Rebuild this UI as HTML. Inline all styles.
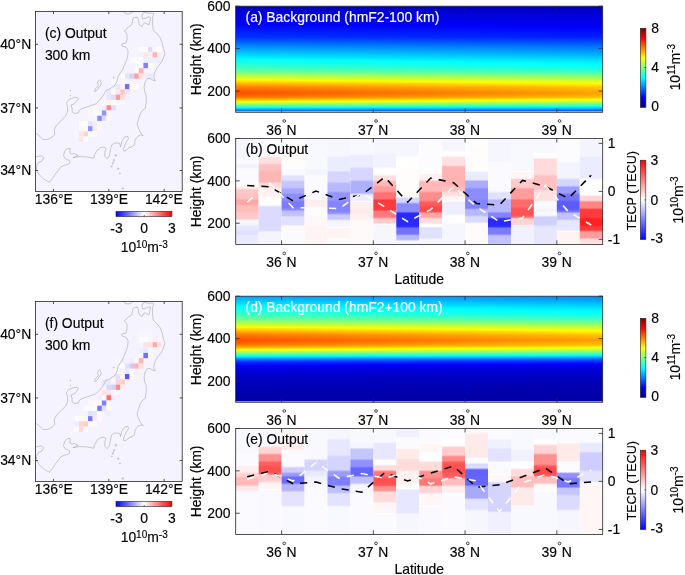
<!DOCTYPE html><html><head><meta charset="utf-8"><style>html,body{margin:0;padding:0;background:#fff;overflow:hidden}svg{display:block;will-change:transform;filter:blur(0.4px)}</style></head><body><svg width="685" height="575" viewBox="0 0 685 575" font-family='"Liberation Sans", sans-serif'><defs><linearGradient id="r1" x1="0" x2="1" y1="0" y2="0"><stop offset="0.0000" stop-color="#0000ca"/><stop offset="1.0000" stop-color="#0000c2"/></linearGradient><linearGradient id="r2" x1="0" x2="1" y1="0" y2="0"><stop offset="0.0000" stop-color="#0000cb"/><stop offset="1.0000" stop-color="#0000c3"/></linearGradient><linearGradient id="r3" x1="0" x2="1" y1="0" y2="0"><stop offset="0.0000" stop-color="#0000cd"/><stop offset="1.0000" stop-color="#0000c5"/></linearGradient><linearGradient id="r4" x1="0" x2="1" y1="0" y2="0"><stop offset="0.0000" stop-color="#0000d0"/><stop offset="1.0000" stop-color="#0000c8"/></linearGradient><linearGradient id="r5" x1="0" x2="1" y1="0" y2="0"><stop offset="0.0000" stop-color="#0000d3"/><stop offset="1.0000" stop-color="#0000cb"/></linearGradient><linearGradient id="r6" x1="0" x2="1" y1="0" y2="0"><stop offset="0.0000" stop-color="#0000d6"/><stop offset="1.0000" stop-color="#0000cd"/></linearGradient><linearGradient id="r7" x1="0" x2="1" y1="0" y2="0"><stop offset="0.0000" stop-color="#0000d9"/><stop offset="1.0000" stop-color="#0000d0"/></linearGradient><linearGradient id="r8" x1="0" x2="1" y1="0" y2="0"><stop offset="0.0000" stop-color="#0000dc"/><stop offset="1.0000" stop-color="#0000d3"/></linearGradient><linearGradient id="r9" x1="0" x2="1" y1="0" y2="0"><stop offset="0.0000" stop-color="#0000df"/><stop offset="1.0000" stop-color="#0000d6"/></linearGradient><linearGradient id="r10" x1="0" x2="1" y1="0" y2="0"><stop offset="0.0000" stop-color="#0000e3"/><stop offset="1.0000" stop-color="#0000d9"/></linearGradient><linearGradient id="r11" x1="0" x2="1" y1="0" y2="0"><stop offset="0.0000" stop-color="#0000e6"/><stop offset="1.0000" stop-color="#0000dc"/></linearGradient><linearGradient id="r12" x1="0" x2="1" y1="0" y2="0"><stop offset="0.0000" stop-color="#0000e9"/><stop offset="1.0000" stop-color="#0000de"/></linearGradient><linearGradient id="r13" x1="0" x2="1" y1="0" y2="0"><stop offset="0.0000" stop-color="#0000ec"/><stop offset="1.0000" stop-color="#0000e1"/></linearGradient><linearGradient id="r14" x1="0" x2="1" y1="0" y2="0"><stop offset="0.0000" stop-color="#0000ef"/><stop offset="1.0000" stop-color="#0000e4"/></linearGradient><linearGradient id="r15" x1="0" x2="1" y1="0" y2="0"><stop offset="0.0000" stop-color="#0000f2"/><stop offset="1.0000" stop-color="#0000e7"/></linearGradient><linearGradient id="r16" x1="0" x2="1" y1="0" y2="0"><stop offset="0.0000" stop-color="#0000f5"/><stop offset="1.0000" stop-color="#0000ea"/></linearGradient><linearGradient id="r17" x1="0" x2="1" y1="0" y2="0"><stop offset="0.0000" stop-color="#0000f9"/><stop offset="1.0000" stop-color="#0000ed"/></linearGradient><linearGradient id="r18" x1="0" x2="1" y1="0" y2="0"><stop offset="0.0000" stop-color="#0000fd"/><stop offset="1.0000" stop-color="#0000f0"/></linearGradient><linearGradient id="r19" x1="0" x2="1" y1="0" y2="0"><stop offset="0.0000" stop-color="#0002ff"/><stop offset="0.1389" stop-color="#0000ff"/><stop offset="1.0000" stop-color="#0000f4"/></linearGradient><linearGradient id="r20" x1="0" x2="1" y1="0" y2="0"><stop offset="0.0000" stop-color="#0006ff"/><stop offset="0.4216" stop-color="#0000ff"/><stop offset="1.0000" stop-color="#0000f7"/></linearGradient><linearGradient id="r21" x1="0" x2="1" y1="0" y2="0"><stop offset="0.0000" stop-color="#0009ff"/><stop offset="0.6886" stop-color="#0000ff"/><stop offset="1.0000" stop-color="#0000fb"/></linearGradient><linearGradient id="r22" x1="0" x2="1" y1="0" y2="0"><stop offset="0.0000" stop-color="#000dff"/><stop offset="0.9411" stop-color="#0000ff"/><stop offset="1.0000" stop-color="#0000fe"/></linearGradient><linearGradient id="r23" x1="0" x2="1" y1="0" y2="0"><stop offset="0.0000" stop-color="#0011ff"/><stop offset="1.0000" stop-color="#0003ff"/></linearGradient><linearGradient id="r24" x1="0" x2="1" y1="0" y2="0"><stop offset="0.0000" stop-color="#0015ff"/><stop offset="1.0000" stop-color="#0006ff"/></linearGradient><linearGradient id="r25" x1="0" x2="1" y1="0" y2="0"><stop offset="0.0000" stop-color="#0019ff"/><stop offset="1.0000" stop-color="#0009ff"/></linearGradient><linearGradient id="r26" x1="0" x2="1" y1="0" y2="0"><stop offset="0.0000" stop-color="#001dff"/><stop offset="1.0000" stop-color="#000dff"/></linearGradient><linearGradient id="r27" x1="0" x2="1" y1="0" y2="0"><stop offset="0.0000" stop-color="#0020ff"/><stop offset="1.0000" stop-color="#0010ff"/></linearGradient><linearGradient id="r28" x1="0" x2="1" y1="0" y2="0"><stop offset="0.0000" stop-color="#0024ff"/><stop offset="1.0000" stop-color="#0014ff"/></linearGradient><linearGradient id="r29" x1="0" x2="1" y1="0" y2="0"><stop offset="0.0000" stop-color="#0028ff"/><stop offset="1.0000" stop-color="#0017ff"/></linearGradient><linearGradient id="r30" x1="0" x2="1" y1="0" y2="0"><stop offset="0.0000" stop-color="#002cff"/><stop offset="1.0000" stop-color="#001bff"/></linearGradient><linearGradient id="r31" x1="0" x2="1" y1="0" y2="0"><stop offset="0.0000" stop-color="#0030ff"/><stop offset="1.0000" stop-color="#001eff"/></linearGradient><linearGradient id="r32" x1="0" x2="1" y1="0" y2="0"><stop offset="0.0000" stop-color="#0034ff"/><stop offset="1.0000" stop-color="#0022ff"/></linearGradient><linearGradient id="r33" x1="0" x2="1" y1="0" y2="0"><stop offset="0.0000" stop-color="#003eff"/><stop offset="1.0000" stop-color="#002bff"/></linearGradient><linearGradient id="r34" x1="0" x2="1" y1="0" y2="0"><stop offset="0.0000" stop-color="#0048ff"/><stop offset="1.0000" stop-color="#0034ff"/></linearGradient><linearGradient id="r35" x1="0" x2="1" y1="0" y2="0"><stop offset="0.0000" stop-color="#0051ff"/><stop offset="1.0000" stop-color="#003dff"/></linearGradient><linearGradient id="r36" x1="0" x2="1" y1="0" y2="0"><stop offset="0.0000" stop-color="#005bff"/><stop offset="1.0000" stop-color="#0045ff"/></linearGradient><linearGradient id="r37" x1="0" x2="1" y1="0" y2="0"><stop offset="0.0000" stop-color="#0065ff"/><stop offset="1.0000" stop-color="#004eff"/></linearGradient><linearGradient id="r38" x1="0" x2="1" y1="0" y2="0"><stop offset="0.0000" stop-color="#006fff"/><stop offset="1.0000" stop-color="#0057ff"/></linearGradient><linearGradient id="r39" x1="0" x2="1" y1="0" y2="0"><stop offset="0.0000" stop-color="#0079ff"/><stop offset="1.0000" stop-color="#0060ff"/></linearGradient><linearGradient id="r40" x1="0" x2="1" y1="0" y2="0"><stop offset="0.0000" stop-color="#0083ff"/><stop offset="1.0000" stop-color="#0069ff"/></linearGradient><linearGradient id="r41" x1="0" x2="1" y1="0" y2="0"><stop offset="0.0000" stop-color="#008cff"/><stop offset="1.0000" stop-color="#0072ff"/></linearGradient><linearGradient id="r42" x1="0" x2="1" y1="0" y2="0"><stop offset="0.0000" stop-color="#0096ff"/><stop offset="1.0000" stop-color="#007aff"/></linearGradient><linearGradient id="r43" x1="0" x2="1" y1="0" y2="0"><stop offset="0.0000" stop-color="#009fff"/><stop offset="1.0000" stop-color="#0082ff"/></linearGradient><linearGradient id="r44" x1="0" x2="1" y1="0" y2="0"><stop offset="0.0000" stop-color="#00a8ff"/><stop offset="1.0000" stop-color="#008aff"/></linearGradient><linearGradient id="r45" x1="0" x2="1" y1="0" y2="0"><stop offset="0.0000" stop-color="#00b0ff"/><stop offset="1.0000" stop-color="#0092ff"/></linearGradient><linearGradient id="r46" x1="0" x2="1" y1="0" y2="0"><stop offset="0.0000" stop-color="#00b9ff"/><stop offset="1.0000" stop-color="#0099ff"/></linearGradient><linearGradient id="r47" x1="0" x2="1" y1="0" y2="0"><stop offset="0.0000" stop-color="#00c1ff"/><stop offset="1.0000" stop-color="#00a1ff"/></linearGradient><linearGradient id="r48" x1="0" x2="1" y1="0" y2="0"><stop offset="0.0000" stop-color="#00caff"/><stop offset="1.0000" stop-color="#00a9ff"/></linearGradient><linearGradient id="r49" x1="0" x2="1" y1="0" y2="0"><stop offset="0.0000" stop-color="#00d3ff"/><stop offset="1.0000" stop-color="#00b1ff"/></linearGradient><linearGradient id="r50" x1="0" x2="1" y1="0" y2="0"><stop offset="0.0000" stop-color="#00dcff"/><stop offset="1.0000" stop-color="#00b9ff"/></linearGradient><linearGradient id="r51" x1="0" x2="1" y1="0" y2="0"><stop offset="0.0000" stop-color="#00e5ff"/><stop offset="1.0000" stop-color="#00c2ff"/></linearGradient><linearGradient id="r52" x1="0" x2="1" y1="0" y2="0"><stop offset="0.0000" stop-color="#00efff"/><stop offset="1.0000" stop-color="#00caff"/></linearGradient><linearGradient id="r53" x1="0" x2="1" y1="0" y2="0"><stop offset="0.0000" stop-color="#00f8ff"/><stop offset="1.0000" stop-color="#00d2ff"/></linearGradient><linearGradient id="r54" x1="0" x2="1" y1="0" y2="0"><stop offset="0.0000" stop-color="#02fffd"/><stop offset="0.0509" stop-color="#00ffff"/><stop offset="1.0000" stop-color="#00dbff"/></linearGradient><linearGradient id="r55" x1="0" x2="1" y1="0" y2="0"><stop offset="0.0000" stop-color="#0bfff4"/><stop offset="0.2827" stop-color="#00ffff"/><stop offset="1.0000" stop-color="#00e3ff"/></linearGradient><linearGradient id="r56" x1="0" x2="1" y1="0" y2="0"><stop offset="0.0000" stop-color="#14ffeb"/><stop offset="0.4964" stop-color="#00ffff"/><stop offset="1.0000" stop-color="#00ebff"/></linearGradient><linearGradient id="r57" x1="0" x2="1" y1="0" y2="0"><stop offset="0.0000" stop-color="#1bffe4"/><stop offset="0.6515" stop-color="#00ffff"/><stop offset="1.0000" stop-color="#00f1ff"/></linearGradient><linearGradient id="r58" x1="0" x2="1" y1="0" y2="0"><stop offset="0.0000" stop-color="#21ffde"/><stop offset="0.8016" stop-color="#00ffff"/><stop offset="1.0000" stop-color="#00f7ff"/></linearGradient><linearGradient id="r59" x1="0" x2="1" y1="0" y2="0"><stop offset="0.0000" stop-color="#28ffd7"/><stop offset="0.9469" stop-color="#00ffff"/><stop offset="1.0000" stop-color="#00fdff"/></linearGradient><linearGradient id="r60" x1="0" x2="1" y1="0" y2="0"><stop offset="0.0000" stop-color="#2fffd0"/><stop offset="1.0000" stop-color="#04fffb"/></linearGradient><linearGradient id="r61" x1="0" x2="1" y1="0" y2="0"><stop offset="0.0000" stop-color="#35ffca"/><stop offset="1.0000" stop-color="#0afff5"/></linearGradient><linearGradient id="r62" x1="0" x2="1" y1="0" y2="0"><stop offset="0.0000" stop-color="#3effc1"/><stop offset="1.0000" stop-color="#12ffed"/></linearGradient><linearGradient id="r63" x1="0" x2="1" y1="0" y2="0"><stop offset="0.0000" stop-color="#4affb5"/><stop offset="1.0000" stop-color="#1cffe3"/></linearGradient><linearGradient id="r64" x1="0" x2="1" y1="0" y2="0"><stop offset="0.0000" stop-color="#56ffa9"/><stop offset="1.0000" stop-color="#27ffd8"/></linearGradient><linearGradient id="r65" x1="0" x2="1" y1="0" y2="0"><stop offset="0.0000" stop-color="#61ff9e"/><stop offset="1.0000" stop-color="#31ffce"/></linearGradient><linearGradient id="r66" x1="0" x2="1" y1="0" y2="0"><stop offset="0.0000" stop-color="#6dff92"/><stop offset="1.0000" stop-color="#3cffc3"/></linearGradient><linearGradient id="r67" x1="0" x2="1" y1="0" y2="0"><stop offset="0.0000" stop-color="#7cff83"/><stop offset="1.0000" stop-color="#49ffb6"/></linearGradient><linearGradient id="r68" x1="0" x2="1" y1="0" y2="0"><stop offset="0.0000" stop-color="#8eff71"/><stop offset="1.0000" stop-color="#5affa5"/></linearGradient><linearGradient id="r69" x1="0" x2="1" y1="0" y2="0"><stop offset="0.0000" stop-color="#a0ff5f"/><stop offset="1.0000" stop-color="#6aff95"/></linearGradient><linearGradient id="r70" x1="0" x2="1" y1="0" y2="0"><stop offset="0.0000" stop-color="#b2ff4d"/><stop offset="1.0000" stop-color="#7aff85"/></linearGradient><linearGradient id="r71" x1="0" x2="1" y1="0" y2="0"><stop offset="0.0000" stop-color="#c4ff3b"/><stop offset="1.0000" stop-color="#8aff75"/></linearGradient><linearGradient id="r72" x1="0" x2="1" y1="0" y2="0"><stop offset="0.0000" stop-color="#d6ff29"/><stop offset="1.0000" stop-color="#9bff64"/></linearGradient><linearGradient id="r73" x1="0" x2="1" y1="0" y2="0"><stop offset="0.0000" stop-color="#e8ff17"/><stop offset="1.0000" stop-color="#abff54"/></linearGradient><linearGradient id="r74" x1="0" x2="1" y1="0" y2="0"><stop offset="0.0000" stop-color="#fcff03"/><stop offset="1.0000" stop-color="#bcff43"/></linearGradient><linearGradient id="r75" x1="0" x2="1" y1="0" y2="0"><stop offset="0.0000" stop-color="#ffef00"/><stop offset="0.2430" stop-color="#ffff00"/><stop offset="1.0000" stop-color="#ceff31"/></linearGradient><linearGradient id="r76" x1="0" x2="1" y1="0" y2="0"><stop offset="0.0000" stop-color="#ffdc00"/><stop offset="0.5219" stop-color="#ffff00"/><stop offset="1.0000" stop-color="#dfff20"/></linearGradient><linearGradient id="r77" x1="0" x2="1" y1="0" y2="0"><stop offset="0.0000" stop-color="#ffc900"/><stop offset="0.7853" stop-color="#ffff00"/><stop offset="1.0000" stop-color="#f0ff0f"/></linearGradient><linearGradient id="r78" x1="0" x2="1" y1="0" y2="0"><stop offset="0.0000" stop-color="#ffb500"/><stop offset="1.0000" stop-color="#fffd00"/></linearGradient><linearGradient id="r79" x1="0" x2="1" y1="0" y2="0"><stop offset="0.0000" stop-color="#ffa600"/><stop offset="1.0000" stop-color="#ffee00"/></linearGradient><linearGradient id="r80" x1="0" x2="1" y1="0" y2="0"><stop offset="0.0000" stop-color="#ff9700"/><stop offset="1.0000" stop-color="#ffe100"/></linearGradient><linearGradient id="r81" x1="0" x2="1" y1="0" y2="0"><stop offset="0.0000" stop-color="#ff8800"/><stop offset="1.0000" stop-color="#ffd300"/></linearGradient><linearGradient id="r82" x1="0" x2="1" y1="0" y2="0"><stop offset="0.0000" stop-color="#ff7900"/><stop offset="1.0000" stop-color="#ffc600"/></linearGradient><linearGradient id="r83" x1="0" x2="1" y1="0" y2="0"><stop offset="0.0000" stop-color="#ff6e00"/><stop offset="1.0000" stop-color="#ffbd00"/></linearGradient><linearGradient id="r84" x1="0" x2="1" y1="0" y2="0"><stop offset="0.0000" stop-color="#ff6700"/><stop offset="1.0000" stop-color="#ffb600"/></linearGradient><linearGradient id="r85" x1="0" x2="1" y1="0" y2="0"><stop offset="0.0000" stop-color="#ff6000"/><stop offset="1.0000" stop-color="#ffb000"/></linearGradient><linearGradient id="r86" x1="0" x2="1" y1="0" y2="0"><stop offset="0.0000" stop-color="#ff5900"/><stop offset="1.0000" stop-color="#ffa900"/></linearGradient><linearGradient id="r87" x1="0" x2="1" y1="0" y2="0"><stop offset="0.0000" stop-color="#ff5200"/><stop offset="1.0000" stop-color="#ffa300"/></linearGradient><linearGradient id="r88" x1="0" x2="1" y1="0" y2="0"><stop offset="0.0000" stop-color="#ff5000"/><stop offset="1.0000" stop-color="#ffa100"/></linearGradient><linearGradient id="r89" x1="0" x2="1" y1="0" y2="0"><stop offset="0.0000" stop-color="#ff5a00"/><stop offset="1.0000" stop-color="#ffaa00"/></linearGradient><linearGradient id="r90" x1="0" x2="1" y1="0" y2="0"><stop offset="0.0000" stop-color="#ff6500"/><stop offset="1.0000" stop-color="#ffb400"/></linearGradient><linearGradient id="r91" x1="0" x2="1" y1="0" y2="0"><stop offset="0.0000" stop-color="#ff6f00"/><stop offset="1.0000" stop-color="#ffbd00"/></linearGradient><linearGradient id="r92" x1="0" x2="1" y1="0" y2="0"><stop offset="0.0000" stop-color="#ff7b00"/><stop offset="1.0000" stop-color="#ffc800"/></linearGradient><linearGradient id="r93" x1="0" x2="1" y1="0" y2="0"><stop offset="0.0000" stop-color="#ff9a00"/><stop offset="1.0000" stop-color="#ffe400"/></linearGradient><linearGradient id="r94" x1="0" x2="1" y1="0" y2="0"><stop offset="0.0000" stop-color="#ffba00"/><stop offset="0.9777" stop-color="#ffff00"/><stop offset="1.0000" stop-color="#fdff02"/></linearGradient><linearGradient id="r95" x1="0" x2="1" y1="0" y2="0"><stop offset="0.0000" stop-color="#ffd900"/><stop offset="0.5561" stop-color="#ffff00"/><stop offset="1.0000" stop-color="#e1ff1e"/></linearGradient><linearGradient id="r96" x1="0" x2="1" y1="0" y2="0"><stop offset="0.0000" stop-color="#fff900"/><stop offset="0.0931" stop-color="#ffff00"/><stop offset="1.0000" stop-color="#c5ff3a"/></linearGradient><linearGradient id="r97" x1="0" x2="1" y1="0" y2="0"><stop offset="0.0000" stop-color="#dfff20"/><stop offset="1.0000" stop-color="#a2ff5d"/></linearGradient><linearGradient id="r98" x1="0" x2="1" y1="0" y2="0"><stop offset="0.0000" stop-color="#b6ff49"/><stop offset="1.0000" stop-color="#7eff81"/></linearGradient><linearGradient id="r99" x1="0" x2="1" y1="0" y2="0"><stop offset="0.0000" stop-color="#8eff71"/><stop offset="1.0000" stop-color="#5affa5"/></linearGradient><linearGradient id="r100" x1="0" x2="1" y1="0" y2="0"><stop offset="0.0000" stop-color="#63ff9c"/><stop offset="1.0000" stop-color="#32ffcd"/></linearGradient><linearGradient id="r101" x1="0" x2="1" y1="0" y2="0"><stop offset="0.0000" stop-color="#34ffcb"/><stop offset="1.0000" stop-color="#09fff6"/></linearGradient><linearGradient id="r102" x1="0" x2="1" y1="0" y2="0"><stop offset="0.0000" stop-color="#06fff9"/><stop offset="0.1565" stop-color="#00ffff"/><stop offset="1.0000" stop-color="#00deff"/></linearGradient><linearGradient id="r103" x1="0" x2="1" y1="0" y2="0"><stop offset="0.0000" stop-color="#00d4ff"/><stop offset="1.0000" stop-color="#00b2ff"/></linearGradient><linearGradient id="r104" x1="0" x2="1" y1="0" y2="0"><stop offset="0.0000" stop-color="#00a1ff"/><stop offset="1.0000" stop-color="#0085ff"/></linearGradient><linearGradient id="r105" x1="0" x2="1" y1="0" y2="0"><stop offset="0.0000" stop-color="#0076ff"/><stop offset="1.0000" stop-color="#005eff"/></linearGradient><linearGradient id="r106" x1="0" x2="1" y1="0" y2="0"><stop offset="0.0000" stop-color="#0063ff"/><stop offset="1.0000" stop-color="#004cff"/></linearGradient><linearGradient id="c107" gradientUnits="userSpaceOnUse" x1="0" x2="0" y1="138.50" y2="244.40"><stop offset="-0.0047" stop-color="#f6f6ff"/><stop offset="0.1789" stop-color="#f6f6ff"/><stop offset="0.1989" stop-color="#fbfbff"/><stop offset="0.2308" stop-color="#fbfbff"/><stop offset="0.2508" stop-color="#f2f2ff"/><stop offset="0.2686" stop-color="#f2f2ff"/><stop offset="0.2886" stop-color="#fafaff"/><stop offset="0.4385" stop-color="#fafaff"/><stop offset="0.4440" stop-color="#ffffff"/><stop offset="0.4585" stop-color="#fff1f1"/><stop offset="0.4669" stop-color="#fff1f1"/><stop offset="0.4869" stop-color="#ffc6c6"/><stop offset="0.5122" stop-color="#ffc6c6"/><stop offset="0.5322" stop-color="#ffc1c1"/><stop offset="0.5651" stop-color="#ffc1c1"/><stop offset="0.5851" stop-color="#ffa6a6"/><stop offset="0.6180" stop-color="#ffa6a6"/><stop offset="0.6380" stop-color="#ffbdbd"/><stop offset="0.6878" stop-color="#ffbdbd"/><stop offset="0.7078" stop-color="#ffcaca"/><stop offset="0.7586" stop-color="#ffcaca"/><stop offset="0.7759" stop-color="#ffffff"/><stop offset="0.7786" stop-color="#f6f6ff"/><stop offset="0.8115" stop-color="#f6f6ff"/><stop offset="0.8315" stop-color="#e6e6ff"/><stop offset="0.8635" stop-color="#e6e6ff"/><stop offset="0.8835" stop-color="#e0e0ff"/><stop offset="0.9012" stop-color="#e0e0ff"/><stop offset="0.9212" stop-color="#eaeaff"/><stop offset="1.0057" stop-color="#eaeaff"/></linearGradient><linearGradient id="c108" gradientUnits="userSpaceOnUse" x1="0" x2="0" y1="138.50" y2="244.40"><stop offset="-0.0047" stop-color="#fbfbff"/><stop offset="0.1609" stop-color="#fbfbff"/><stop offset="0.1634" stop-color="#ffffff"/><stop offset="0.1809" stop-color="#ffe0e0"/><stop offset="0.2308" stop-color="#ffe0e0"/><stop offset="0.2508" stop-color="#ffc1c1"/><stop offset="0.2969" stop-color="#ffc1c1"/><stop offset="0.3169" stop-color="#ffb6b6"/><stop offset="0.4074" stop-color="#ffb6b6"/><stop offset="0.4274" stop-color="#ffdbdb"/><stop offset="0.4593" stop-color="#ffdbdb"/><stop offset="0.4793" stop-color="#fff1f1"/><stop offset="0.5424" stop-color="#fff1f1"/><stop offset="0.5624" stop-color="#ffffff"/><stop offset="0.6274" stop-color="#ffffff"/><stop offset="0.6474" stop-color="#dbdbff"/><stop offset="0.8635" stop-color="#dbdbff"/><stop offset="0.8835" stop-color="#f4f4ff"/><stop offset="1.0057" stop-color="#f4f4ff"/></linearGradient><linearGradient id="c109" gradientUnits="userSpaceOnUse" x1="0" x2="0" y1="138.50" y2="244.40"><stop offset="-0.0047" stop-color="#fffcfc"/><stop offset="0.2686" stop-color="#fffcfc"/><stop offset="0.2761" stop-color="#ffffff"/><stop offset="0.2886" stop-color="#fbfbff"/><stop offset="0.3366" stop-color="#fbfbff"/><stop offset="0.3566" stop-color="#e0e0ff"/><stop offset="0.3894" stop-color="#e0e0ff"/><stop offset="0.4094" stop-color="#c6c6ff"/><stop offset="0.4593" stop-color="#c6c6ff"/><stop offset="0.4793" stop-color="#a6a6ff"/><stop offset="0.5122" stop-color="#a6a6ff"/><stop offset="0.5322" stop-color="#8c8cff"/><stop offset="0.5802" stop-color="#8c8cff"/><stop offset="0.6002" stop-color="#7b7bff"/><stop offset="0.6510" stop-color="#7b7bff"/><stop offset="0.6709" stop-color="#8c8cff"/><stop offset="0.6709" stop-color="#8c8cff"/><stop offset="0.6908" stop-color="#c1c1ff"/><stop offset="0.7237" stop-color="#c1c1ff"/><stop offset="0.7437" stop-color="#e0e0ff"/><stop offset="0.8115" stop-color="#e0e0ff"/><stop offset="0.8279" stop-color="#ffffff"/><stop offset="0.8315" stop-color="#fff8f8"/><stop offset="0.8635" stop-color="#fff8f8"/><stop offset="0.8758" stop-color="#ffffff"/><stop offset="0.8835" stop-color="#fbfbff"/><stop offset="1.0057" stop-color="#fbfbff"/></linearGradient><linearGradient id="c110" gradientUnits="userSpaceOnUse" x1="0" x2="0" y1="138.50" y2="244.40"><stop offset="-0.0047" stop-color="#f8f8ff"/><stop offset="0.2837" stop-color="#f8f8ff"/><stop offset="0.3037" stop-color="#f4f4ff"/><stop offset="0.3366" stop-color="#f4f4ff"/><stop offset="0.3566" stop-color="#fbfbff"/><stop offset="0.5651" stop-color="#fbfbff"/><stop offset="0.5688" stop-color="#ffffff"/><stop offset="0.5851" stop-color="#ffecec"/><stop offset="0.6349" stop-color="#ffecec"/><stop offset="0.6549" stop-color="#fffbfb"/><stop offset="0.7237" stop-color="#fffbfb"/><stop offset="0.7437" stop-color="#fff8f8"/><stop offset="0.8115" stop-color="#fff8f8"/><stop offset="0.8315" stop-color="#fff4f4"/><stop offset="1.0057" stop-color="#fff4f4"/></linearGradient><linearGradient id="c111" gradientUnits="userSpaceOnUse" x1="0" x2="0" y1="138.50" y2="244.40"><stop offset="-0.0047" stop-color="#f6f6ff"/><stop offset="0.1609" stop-color="#f6f6ff"/><stop offset="0.1809" stop-color="#ececff"/><stop offset="0.3016" stop-color="#ececff"/><stop offset="0.3216" stop-color="#d5d5ff"/><stop offset="0.4074" stop-color="#d5d5ff"/><stop offset="0.4274" stop-color="#b8b8ff"/><stop offset="0.4952" stop-color="#b8b8ff"/><stop offset="0.5152" stop-color="#9595ff"/><stop offset="0.5802" stop-color="#9595ff"/><stop offset="0.6002" stop-color="#8484ff"/><stop offset="0.6841" stop-color="#8484ff"/><stop offset="0.7041" stop-color="#9595ff"/><stop offset="0.7058" stop-color="#9595ff"/><stop offset="0.7258" stop-color="#cacaff"/><stop offset="0.7586" stop-color="#cacaff"/><stop offset="0.7786" stop-color="#f6f6ff"/><stop offset="0.8285" stop-color="#f6f6ff"/><stop offset="0.8375" stop-color="#ffffff"/><stop offset="0.8485" stop-color="#fff4f4"/><stop offset="0.9343" stop-color="#fff4f4"/><stop offset="0.9504" stop-color="#ffffff"/><stop offset="0.9543" stop-color="#fcfcff"/><stop offset="1.0057" stop-color="#fcfcff"/></linearGradient><linearGradient id="c112" gradientUnits="userSpaceOnUse" x1="0" x2="0" y1="138.50" y2="244.40"><stop offset="-0.0047" stop-color="#f8f8ff"/><stop offset="0.1430" stop-color="#f8f8ff"/><stop offset="0.1630" stop-color="#ececff"/><stop offset="0.2667" stop-color="#ececff"/><stop offset="0.2867" stop-color="#d5d5ff"/><stop offset="0.3894" stop-color="#d5d5ff"/><stop offset="0.4094" stop-color="#afafff"/><stop offset="0.5122" stop-color="#afafff"/><stop offset="0.5322" stop-color="#ececff"/><stop offset="0.5830" stop-color="#ececff"/><stop offset="0.5946" stop-color="#ffffff"/><stop offset="0.6030" stop-color="#fff1f1"/><stop offset="0.6463" stop-color="#fff1f1"/><stop offset="0.6663" stop-color="#ffeaea"/><stop offset="0.7029" stop-color="#ffeaea"/><stop offset="0.7229" stop-color="#fff1f1"/><stop offset="0.7586" stop-color="#fff1f1"/><stop offset="0.7786" stop-color="#fffafa"/><stop offset="1.0057" stop-color="#fffafa"/></linearGradient><linearGradient id="c113" gradientUnits="userSpaceOnUse" x1="0" x2="0" y1="138.50" y2="244.40"><stop offset="-0.0047" stop-color="#f6f6ff"/><stop offset="0.1430" stop-color="#f6f6ff"/><stop offset="0.1630" stop-color="#f1f1ff"/><stop offset="0.2667" stop-color="#f1f1ff"/><stop offset="0.2867" stop-color="#ffffff"/><stop offset="0.3366" stop-color="#ffffff"/><stop offset="0.3566" stop-color="#ffe0e0"/><stop offset="0.3894" stop-color="#ffe0e0"/><stop offset="0.4094" stop-color="#ffb8b8"/><stop offset="0.4385" stop-color="#ffb8b8"/><stop offset="0.4585" stop-color="#ff9d9d"/><stop offset="0.4952" stop-color="#ff9d9d"/><stop offset="0.5152" stop-color="#ff7373"/><stop offset="0.5651" stop-color="#ff7373"/><stop offset="0.5851" stop-color="#ff3a3a"/><stop offset="0.6708" stop-color="#ff3a3a"/><stop offset="0.6908" stop-color="#ff7b7b"/><stop offset="0.7407" stop-color="#ff7b7b"/><stop offset="0.7607" stop-color="#ffcaca"/><stop offset="0.7936" stop-color="#ffcaca"/><stop offset="0.8108" stop-color="#ffffff"/><stop offset="0.8136" stop-color="#f6f6ff"/><stop offset="1.0057" stop-color="#f6f6ff"/></linearGradient><linearGradient id="c114" gradientUnits="userSpaceOnUse" x1="0" x2="0" y1="138.50" y2="244.40"><stop offset="-0.0047" stop-color="#f6f6ff"/><stop offset="0.1609" stop-color="#f6f6ff"/><stop offset="0.1809" stop-color="#ffffff"/><stop offset="0.2487" stop-color="#ffffff"/><stop offset="0.2687" stop-color="#fffcfc"/><stop offset="0.5471" stop-color="#fffcfc"/><stop offset="0.5483" stop-color="#ffffff"/><stop offset="0.5671" stop-color="#d5d5ff"/><stop offset="0.6000" stop-color="#d5d5ff"/><stop offset="0.6200" stop-color="#8c8cff"/><stop offset="0.6878" stop-color="#8c8cff"/><stop offset="0.7078" stop-color="#2a2aff"/><stop offset="0.8285" stop-color="#2a2aff"/><stop offset="0.8485" stop-color="#7373ff"/><stop offset="0.8993" stop-color="#7373ff"/><stop offset="0.9193" stop-color="#b8b8ff"/><stop offset="0.9513" stop-color="#b8b8ff"/><stop offset="0.9713" stop-color="#f6f6ff"/><stop offset="1.0057" stop-color="#f6f6ff"/></linearGradient><linearGradient id="c115" gradientUnits="userSpaceOnUse" x1="0" x2="0" y1="138.50" y2="244.40"><stop offset="-0.0047" stop-color="#fcfcff"/><stop offset="0.3196" stop-color="#fcfcff"/><stop offset="0.3227" stop-color="#ffffff"/><stop offset="0.3396" stop-color="#fff1f1"/><stop offset="0.3894" stop-color="#fff1f1"/><stop offset="0.4094" stop-color="#ffb8b8"/><stop offset="0.4952" stop-color="#ffb8b8"/><stop offset="0.5152" stop-color="#ff8c8c"/><stop offset="0.5830" stop-color="#ff8c8c"/><stop offset="0.6030" stop-color="#ff5b5b"/><stop offset="0.6274" stop-color="#ff5b5b"/><stop offset="0.6474" stop-color="#ff4a4a"/><stop offset="0.6878" stop-color="#ff4a4a"/><stop offset="0.7078" stop-color="#ffa6a6"/><stop offset="0.7407" stop-color="#ffa6a6"/><stop offset="0.7607" stop-color="#ffe0e0"/><stop offset="0.7936" stop-color="#ffe0e0"/><stop offset="0.8136" stop-color="#ffffff"/><stop offset="0.8285" stop-color="#ffffff"/><stop offset="0.8485" stop-color="#e0e0ff"/><stop offset="0.9343" stop-color="#e0e0ff"/><stop offset="0.9543" stop-color="#f6f6ff"/><stop offset="1.0057" stop-color="#f6f6ff"/></linearGradient><linearGradient id="c116" gradientUnits="userSpaceOnUse" x1="0" x2="0" y1="138.50" y2="244.40"><stop offset="-0.0047" stop-color="#f6f6ff"/><stop offset="0.1080" stop-color="#f6f6ff"/><stop offset="0.1280" stop-color="#ffffff"/><stop offset="0.1609" stop-color="#ffffff"/><stop offset="0.1809" stop-color="#ffe0e0"/><stop offset="0.2487" stop-color="#ffe0e0"/><stop offset="0.2687" stop-color="#ffb3b3"/><stop offset="0.4385" stop-color="#ffb3b3"/><stop offset="0.4585" stop-color="#ffbdbd"/><stop offset="0.4914" stop-color="#ffbdbd"/><stop offset="0.5114" stop-color="#ffdbdb"/><stop offset="0.5330" stop-color="#ffdbdb"/><stop offset="0.5530" stop-color="#fff6f6"/><stop offset="0.5830" stop-color="#fff6f6"/><stop offset="0.5898" stop-color="#ffffff"/><stop offset="0.6030" stop-color="#eeeeff"/><stop offset="0.7124" stop-color="#eeeeff"/><stop offset="0.7324" stop-color="#ffffff"/><stop offset="0.7936" stop-color="#ffffff"/><stop offset="0.8136" stop-color="#f6f6ff"/><stop offset="1.0057" stop-color="#f6f6ff"/></linearGradient><linearGradient id="c117" gradientUnits="userSpaceOnUse" x1="0" x2="0" y1="138.50" y2="244.40"><stop offset="-0.0047" stop-color="#fffcfc"/><stop offset="0.3016" stop-color="#fffcfc"/><stop offset="0.3047" stop-color="#ffffff"/><stop offset="0.3216" stop-color="#ececff"/><stop offset="0.3866" stop-color="#ececff"/><stop offset="0.4066" stop-color="#aaaaff"/><stop offset="0.4593" stop-color="#aaaaff"/><stop offset="0.4793" stop-color="#8c8cff"/><stop offset="0.5651" stop-color="#8c8cff"/><stop offset="0.5851" stop-color="#8484ff"/><stop offset="0.6557" stop-color="#8484ff"/><stop offset="0.6757" stop-color="#b8b8ff"/><stop offset="0.7218" stop-color="#b8b8ff"/><stop offset="0.7418" stop-color="#dbdbff"/><stop offset="0.7879" stop-color="#dbdbff"/><stop offset="0.8058" stop-color="#ffffff"/><stop offset="0.8079" stop-color="#fffbfb"/><stop offset="1.0057" stop-color="#fffbfb"/></linearGradient><linearGradient id="c118" gradientUnits="userSpaceOnUse" x1="0" x2="0" y1="138.50" y2="244.40"><stop offset="-0.0047" stop-color="#f6f6ff"/><stop offset="0.2138" stop-color="#f6f6ff"/><stop offset="0.2338" stop-color="#fbfbff"/><stop offset="0.4952" stop-color="#fbfbff"/><stop offset="0.5152" stop-color="#e0e0ff"/><stop offset="0.5651" stop-color="#e0e0ff"/><stop offset="0.5851" stop-color="#b8b8ff"/><stop offset="0.6878" stop-color="#b8b8ff"/><stop offset="0.7078" stop-color="#8484ff"/><stop offset="0.7407" stop-color="#8484ff"/><stop offset="0.7607" stop-color="#2a2aff"/><stop offset="0.8285" stop-color="#2a2aff"/><stop offset="0.8485" stop-color="#7b7bff"/><stop offset="0.8993" stop-color="#7b7bff"/><stop offset="0.9193" stop-color="#c1c1ff"/><stop offset="1.0057" stop-color="#c1c1ff"/></linearGradient><linearGradient id="c119" gradientUnits="userSpaceOnUse" x1="0" x2="0" y1="138.50" y2="244.40"><stop offset="-0.0047" stop-color="#f8f8ff"/><stop offset="0.3016" stop-color="#f8f8ff"/><stop offset="0.3105" stop-color="#ffffff"/><stop offset="0.3216" stop-color="#fff6f6"/><stop offset="0.3715" stop-color="#fff6f6"/><stop offset="0.3915" stop-color="#ffcaca"/><stop offset="0.4593" stop-color="#ffcaca"/><stop offset="0.4793" stop-color="#ff9d9d"/><stop offset="0.5651" stop-color="#ff9d9d"/><stop offset="0.5851" stop-color="#ff6b6b"/><stop offset="0.6463" stop-color="#ff6b6b"/><stop offset="0.6663" stop-color="#ff5252"/><stop offset="0.7218" stop-color="#ff5252"/><stop offset="0.7413" stop-color="#ff6b6b"/><stop offset="0.7413" stop-color="#ff6b6b"/><stop offset="0.7607" stop-color="#ffd5d5"/><stop offset="0.8115" stop-color="#ffd5d5"/><stop offset="0.8266" stop-color="#ffffff"/><stop offset="0.8315" stop-color="#f1f1ff"/><stop offset="1.0057" stop-color="#f1f1ff"/></linearGradient><linearGradient id="c120" gradientUnits="userSpaceOnUse" x1="0" x2="0" y1="138.50" y2="244.40"><stop offset="-0.0047" stop-color="#f8f8ff"/><stop offset="0.1260" stop-color="#f8f8ff"/><stop offset="0.1460" stop-color="#ffffff"/><stop offset="0.1789" stop-color="#ffffff"/><stop offset="0.1989" stop-color="#ffdbdb"/><stop offset="0.3366" stop-color="#ffdbdb"/><stop offset="0.3566" stop-color="#ffc1c1"/><stop offset="0.4773" stop-color="#ffc1c1"/><stop offset="0.4973" stop-color="#ffe0e0"/><stop offset="0.5830" stop-color="#ffe0e0"/><stop offset="0.6006" stop-color="#ffffff"/><stop offset="0.6030" stop-color="#fbfbff"/><stop offset="0.6463" stop-color="#fbfbff"/><stop offset="0.6663" stop-color="#f4f4ff"/><stop offset="0.6841" stop-color="#f4f4ff"/><stop offset="0.7041" stop-color="#fbfbff"/><stop offset="0.7237" stop-color="#fbfbff"/><stop offset="0.7437" stop-color="#d0d0ff"/><stop offset="0.8115" stop-color="#d0d0ff"/><stop offset="0.8315" stop-color="#e6e6ff"/><stop offset="1.0057" stop-color="#e6e6ff"/></linearGradient><linearGradient id="c121" gradientUnits="userSpaceOnUse" x1="0" x2="0" y1="138.50" y2="244.40"><stop offset="-0.0047" stop-color="#fcfcff"/><stop offset="0.2138" stop-color="#fcfcff"/><stop offset="0.2338" stop-color="#f4f4ff"/><stop offset="0.3715" stop-color="#f4f4ff"/><stop offset="0.3915" stop-color="#d5d5ff"/><stop offset="0.4423" stop-color="#d5d5ff"/><stop offset="0.4623" stop-color="#9d9dff"/><stop offset="0.5122" stop-color="#9d9dff"/><stop offset="0.5322" stop-color="#7373ff"/><stop offset="0.5802" stop-color="#7373ff"/><stop offset="0.6002" stop-color="#5b5bff"/><stop offset="0.6652" stop-color="#5b5bff"/><stop offset="0.6852" stop-color="#7373ff"/><stop offset="0.6878" stop-color="#7373ff"/><stop offset="0.7078" stop-color="#c1c1ff"/><stop offset="0.7586" stop-color="#c1c1ff"/><stop offset="0.7786" stop-color="#e6e6ff"/><stop offset="0.8635" stop-color="#e6e6ff"/><stop offset="0.8775" stop-color="#ffffff"/><stop offset="0.8835" stop-color="#fff4f4"/><stop offset="1.0057" stop-color="#fff4f4"/></linearGradient><linearGradient id="c122" gradientUnits="userSpaceOnUse" x1="0" x2="0" y1="138.50" y2="244.40"><stop offset="-0.0047" stop-color="#f4f4ff"/><stop offset="0.1609" stop-color="#f4f4ff"/><stop offset="0.1809" stop-color="#ececff"/><stop offset="0.3715" stop-color="#ececff"/><stop offset="0.3915" stop-color="#ffffff"/><stop offset="0.5301" stop-color="#ffffff"/><stop offset="0.5501" stop-color="#ffd5d5"/><stop offset="0.5830" stop-color="#ffd5d5"/><stop offset="0.6030" stop-color="#ff8484"/><stop offset="0.6529" stop-color="#ff8484"/><stop offset="0.6729" stop-color="#ff3a3a"/><stop offset="0.7407" stop-color="#ff3a3a"/><stop offset="0.7607" stop-color="#ff2222"/><stop offset="0.8163" stop-color="#ff2222"/><stop offset="0.8363" stop-color="#ff3a3a"/><stop offset="0.8635" stop-color="#ff3a3a"/><stop offset="0.8835" stop-color="#ff9d9d"/><stop offset="0.9343" stop-color="#ff9d9d"/><stop offset="0.9543" stop-color="#ffe0e0"/><stop offset="1.0057" stop-color="#ffe0e0"/></linearGradient><linearGradient id="cb123" x1="0" x2="0" y1="0" y2="1"><stop offset="0.0000" stop-color="#800000"/><stop offset="0.1250" stop-color="#ff0000"/><stop offset="0.3750" stop-color="#ffff00"/><stop offset="0.6250" stop-color="#00ffff"/><stop offset="0.8750" stop-color="#0000ff"/><stop offset="1.0000" stop-color="#000080"/></linearGradient><linearGradient id="cb124" x1="0" x2="0" y1="0" y2="1"><stop offset="0" stop-color="#ff0000"/><stop offset="0.5" stop-color="#ffffff"/><stop offset="1" stop-color="#0000ff"/></linearGradient><clipPath id="clip125"><rect x="35.50" y="11.50" width="146.70" height="179.90"/></clipPath><linearGradient id="cb126" x1="0" x2="1" y1="0" y2="0"><stop offset="0" stop-color="#0000ff"/><stop offset="0.5" stop-color="#ffffff"/><stop offset="1" stop-color="#ff0000"/></linearGradient><linearGradient id="r127" x1="0" x2="1" y1="0" y2="0"><stop offset="0.0000" stop-color="#00a5ff"/><stop offset="1.0000" stop-color="#0088ff"/></linearGradient><linearGradient id="r128" x1="0" x2="1" y1="0" y2="0"><stop offset="0.0000" stop-color="#00adff"/><stop offset="1.0000" stop-color="#008fff"/></linearGradient><linearGradient id="r129" x1="0" x2="1" y1="0" y2="0"><stop offset="0.0000" stop-color="#00b6ff"/><stop offset="1.0000" stop-color="#0097ff"/></linearGradient><linearGradient id="r130" x1="0" x2="1" y1="0" y2="0"><stop offset="0.0000" stop-color="#00beff"/><stop offset="1.0000" stop-color="#009fff"/></linearGradient><linearGradient id="r131" x1="0" x2="1" y1="0" y2="0"><stop offset="0.0000" stop-color="#00c7ff"/><stop offset="1.0000" stop-color="#00a6ff"/></linearGradient><linearGradient id="r132" x1="0" x2="1" y1="0" y2="0"><stop offset="0.0000" stop-color="#00d0ff"/><stop offset="1.0000" stop-color="#00aeff"/></linearGradient><linearGradient id="r133" x1="0" x2="1" y1="0" y2="0"><stop offset="0.0000" stop-color="#00d9ff"/><stop offset="1.0000" stop-color="#00b7ff"/></linearGradient><linearGradient id="r134" x1="0" x2="1" y1="0" y2="0"><stop offset="0.0000" stop-color="#00e2ff"/><stop offset="1.0000" stop-color="#00bfff"/></linearGradient><linearGradient id="r135" x1="0" x2="1" y1="0" y2="0"><stop offset="0.0000" stop-color="#00ebff"/><stop offset="1.0000" stop-color="#00c7ff"/></linearGradient><linearGradient id="r136" x1="0" x2="1" y1="0" y2="0"><stop offset="0.0000" stop-color="#00f5ff"/><stop offset="1.0000" stop-color="#00cfff"/></linearGradient><linearGradient id="r137" x1="0" x2="1" y1="0" y2="0"><stop offset="0.0000" stop-color="#00feff"/><stop offset="1.0000" stop-color="#00d8ff"/></linearGradient><linearGradient id="r138" x1="0" x2="1" y1="0" y2="0"><stop offset="0.0000" stop-color="#08fff7"/><stop offset="0.2033" stop-color="#00ffff"/><stop offset="1.0000" stop-color="#00e0ff"/></linearGradient><linearGradient id="r139" x1="0" x2="1" y1="0" y2="0"><stop offset="0.0000" stop-color="#11ffee"/><stop offset="0.4281" stop-color="#00ffff"/><stop offset="1.0000" stop-color="#00e8ff"/></linearGradient><linearGradient id="r140" x1="0" x2="1" y1="0" y2="0"><stop offset="0.0000" stop-color="#18ffe7"/><stop offset="0.5981" stop-color="#00ffff"/><stop offset="1.0000" stop-color="#00efff"/></linearGradient><linearGradient id="r141" x1="0" x2="1" y1="0" y2="0"><stop offset="0.0000" stop-color="#1fffe0"/><stop offset="0.7499" stop-color="#00ffff"/><stop offset="1.0000" stop-color="#00f5ff"/></linearGradient><linearGradient id="r142" x1="0" x2="1" y1="0" y2="0"><stop offset="0.0000" stop-color="#26ffd9"/><stop offset="0.8969" stop-color="#00ffff"/><stop offset="1.0000" stop-color="#00fbff"/></linearGradient><linearGradient id="r143" x1="0" x2="1" y1="0" y2="0"><stop offset="0.0000" stop-color="#2cffd3"/><stop offset="1.0000" stop-color="#02fffd"/></linearGradient><linearGradient id="r144" x1="0" x2="1" y1="0" y2="0"><stop offset="0.0000" stop-color="#33ffcc"/><stop offset="1.0000" stop-color="#08fff7"/></linearGradient><linearGradient id="r145" x1="0" x2="1" y1="0" y2="0"><stop offset="0.0000" stop-color="#3affc5"/><stop offset="1.0000" stop-color="#0efff1"/></linearGradient><linearGradient id="r146" x1="0" x2="1" y1="0" y2="0"><stop offset="0.0000" stop-color="#46ffb9"/><stop offset="1.0000" stop-color="#19ffe6"/></linearGradient><linearGradient id="r147" x1="0" x2="1" y1="0" y2="0"><stop offset="0.0000" stop-color="#51ffae"/><stop offset="1.0000" stop-color="#23ffdc"/></linearGradient><linearGradient id="r148" x1="0" x2="1" y1="0" y2="0"><stop offset="0.0000" stop-color="#5dffa2"/><stop offset="1.0000" stop-color="#2effd1"/></linearGradient><linearGradient id="r149" x1="0" x2="1" y1="0" y2="0"><stop offset="0.0000" stop-color="#69ff96"/><stop offset="1.0000" stop-color="#38ffc7"/></linearGradient><linearGradient id="r150" x1="0" x2="1" y1="0" y2="0"><stop offset="0.0000" stop-color="#76ff89"/><stop offset="1.0000" stop-color="#44ffbb"/></linearGradient><linearGradient id="r151" x1="0" x2="1" y1="0" y2="0"><stop offset="0.0000" stop-color="#88ff77"/><stop offset="1.0000" stop-color="#54ffab"/></linearGradient><linearGradient id="r152" x1="0" x2="1" y1="0" y2="0"><stop offset="0.0000" stop-color="#9aff65"/><stop offset="1.0000" stop-color="#64ff9b"/></linearGradient><linearGradient id="r153" x1="0" x2="1" y1="0" y2="0"><stop offset="0.0000" stop-color="#acff53"/><stop offset="1.0000" stop-color="#74ff8b"/></linearGradient><linearGradient id="r154" x1="0" x2="1" y1="0" y2="0"><stop offset="0.0000" stop-color="#beff41"/><stop offset="1.0000" stop-color="#85ff7a"/></linearGradient><linearGradient id="r155" x1="0" x2="1" y1="0" y2="0"><stop offset="0.0000" stop-color="#d0ff2f"/><stop offset="1.0000" stop-color="#95ff6a"/></linearGradient><linearGradient id="r156" x1="0" x2="1" y1="0" y2="0"><stop offset="0.0000" stop-color="#e2ff1d"/><stop offset="1.0000" stop-color="#a5ff5a"/></linearGradient><linearGradient id="r157" x1="0" x2="1" y1="0" y2="0"><stop offset="0.0000" stop-color="#f5ff0a"/><stop offset="1.0000" stop-color="#b6ff49"/></linearGradient><linearGradient id="r158" x1="0" x2="1" y1="0" y2="0"><stop offset="0.0000" stop-color="#fff600"/><stop offset="0.1421" stop-color="#ffff00"/><stop offset="1.0000" stop-color="#c8ff37"/></linearGradient><linearGradient id="r159" x1="0" x2="1" y1="0" y2="0"><stop offset="0.0000" stop-color="#ffe300"/><stop offset="0.4267" stop-color="#ffff00"/><stop offset="1.0000" stop-color="#d9ff26"/></linearGradient><linearGradient id="r160" x1="0" x2="1" y1="0" y2="0"><stop offset="0.0000" stop-color="#ffcf00"/><stop offset="0.6954" stop-color="#ffff00"/><stop offset="1.0000" stop-color="#eaff15"/></linearGradient><linearGradient id="r161" x1="0" x2="1" y1="0" y2="0"><stop offset="0.0000" stop-color="#ffbc00"/><stop offset="0.9494" stop-color="#ffff00"/><stop offset="1.0000" stop-color="#fbff04"/></linearGradient><linearGradient id="r162" x1="0" x2="1" y1="0" y2="0"><stop offset="0.0000" stop-color="#ffab00"/><stop offset="1.0000" stop-color="#fff300"/></linearGradient><linearGradient id="r163" x1="0" x2="1" y1="0" y2="0"><stop offset="0.0000" stop-color="#ff9c00"/><stop offset="1.0000" stop-color="#ffe600"/></linearGradient><linearGradient id="r164" x1="0" x2="1" y1="0" y2="0"><stop offset="0.0000" stop-color="#ff8d00"/><stop offset="1.0000" stop-color="#ffd800"/></linearGradient><linearGradient id="r165" x1="0" x2="1" y1="0" y2="0"><stop offset="0.0000" stop-color="#ff7e00"/><stop offset="1.0000" stop-color="#ffcb00"/></linearGradient><linearGradient id="r166" x1="0" x2="1" y1="0" y2="0"><stop offset="0.0000" stop-color="#ff7100"/><stop offset="1.0000" stop-color="#ffbf00"/></linearGradient><linearGradient id="r167" x1="0" x2="1" y1="0" y2="0"><stop offset="0.0000" stop-color="#ff6a00"/><stop offset="1.0000" stop-color="#ffb800"/></linearGradient><linearGradient id="r168" x1="0" x2="1" y1="0" y2="0"><stop offset="0.0000" stop-color="#ff6200"/><stop offset="1.0000" stop-color="#ffb200"/></linearGradient><linearGradient id="r169" x1="0" x2="1" y1="0" y2="0"><stop offset="0.0000" stop-color="#ff5b00"/><stop offset="1.0000" stop-color="#ffab00"/></linearGradient><linearGradient id="r170" x1="0" x2="1" y1="0" y2="0"><stop offset="0.0000" stop-color="#ff5400"/><stop offset="1.0000" stop-color="#ffa500"/></linearGradient><linearGradient id="r171" x1="0" x2="1" y1="0" y2="0"><stop offset="0.0000" stop-color="#ff4d00"/><stop offset="1.0000" stop-color="#ff9e00"/></linearGradient><linearGradient id="r172" x1="0" x2="1" y1="0" y2="0"><stop offset="0.0000" stop-color="#ff5600"/><stop offset="1.0000" stop-color="#ffa600"/></linearGradient><linearGradient id="r173" x1="0" x2="1" y1="0" y2="0"><stop offset="0.0000" stop-color="#ff5f00"/><stop offset="1.0000" stop-color="#ffaf00"/></linearGradient><linearGradient id="r174" x1="0" x2="1" y1="0" y2="0"><stop offset="0.0000" stop-color="#ff6900"/><stop offset="1.0000" stop-color="#ffb800"/></linearGradient><linearGradient id="r175" x1="0" x2="1" y1="0" y2="0"><stop offset="0.0000" stop-color="#ff7300"/><stop offset="1.0000" stop-color="#ffc000"/></linearGradient><linearGradient id="r176" x1="0" x2="1" y1="0" y2="0"><stop offset="0.0000" stop-color="#ff8300"/><stop offset="1.0000" stop-color="#ffcf00"/></linearGradient><linearGradient id="r177" x1="0" x2="1" y1="0" y2="0"><stop offset="0.0000" stop-color="#ff9f00"/><stop offset="1.0000" stop-color="#ffe900"/></linearGradient><linearGradient id="r178" x1="0" x2="1" y1="0" y2="0"><stop offset="0.0000" stop-color="#ffbc00"/><stop offset="0.9460" stop-color="#ffff00"/><stop offset="1.0000" stop-color="#fbff04"/></linearGradient><linearGradient id="r179" x1="0" x2="1" y1="0" y2="0"><stop offset="0.0000" stop-color="#ffd900"/><stop offset="0.5580" stop-color="#ffff00"/><stop offset="1.0000" stop-color="#e1ff1e"/></linearGradient><linearGradient id="r180" x1="0" x2="1" y1="0" y2="0"><stop offset="0.0000" stop-color="#fff600"/><stop offset="0.1351" stop-color="#ffff00"/><stop offset="1.0000" stop-color="#c7ff38"/></linearGradient><linearGradient id="r181" x1="0" x2="1" y1="0" y2="0"><stop offset="0.0000" stop-color="#e5ff1a"/><stop offset="1.0000" stop-color="#a8ff57"/></linearGradient><linearGradient id="r182" x1="0" x2="1" y1="0" y2="0"><stop offset="0.0000" stop-color="#c1ff3e"/><stop offset="1.0000" stop-color="#87ff78"/></linearGradient><linearGradient id="r183" x1="0" x2="1" y1="0" y2="0"><stop offset="0.0000" stop-color="#9cff63"/><stop offset="1.0000" stop-color="#66ff99"/></linearGradient><linearGradient id="r184" x1="0" x2="1" y1="0" y2="0"><stop offset="0.0000" stop-color="#76ff89"/><stop offset="1.0000" stop-color="#44ffbb"/></linearGradient><linearGradient id="r185" x1="0" x2="1" y1="0" y2="0"><stop offset="0.0000" stop-color="#4bffb4"/><stop offset="1.0000" stop-color="#1effe1"/></linearGradient><linearGradient id="r186" x1="0" x2="1" y1="0" y2="0"><stop offset="0.0000" stop-color="#21ffde"/><stop offset="0.7940" stop-color="#00ffff"/><stop offset="1.0000" stop-color="#00f6ff"/></linearGradient><linearGradient id="r187" x1="0" x2="1" y1="0" y2="0"><stop offset="0.0000" stop-color="#00f5ff"/><stop offset="1.0000" stop-color="#00d0ff"/></linearGradient><linearGradient id="r188" x1="0" x2="1" y1="0" y2="0"><stop offset="0.0000" stop-color="#00c7ff"/><stop offset="1.0000" stop-color="#00a6ff"/></linearGradient><linearGradient id="r189" x1="0" x2="1" y1="0" y2="0"><stop offset="0.0000" stop-color="#0099ff"/><stop offset="1.0000" stop-color="#007dff"/></linearGradient><linearGradient id="r190" x1="0" x2="1" y1="0" y2="0"><stop offset="0.0000" stop-color="#0074ff"/><stop offset="1.0000" stop-color="#005cff"/></linearGradient><linearGradient id="r191" x1="0" x2="1" y1="0" y2="0"><stop offset="0.0000" stop-color="#005aff"/><stop offset="1.0000" stop-color="#0045ff"/></linearGradient><linearGradient id="r192" x1="0" x2="1" y1="0" y2="0"><stop offset="0.0000" stop-color="#0041ff"/><stop offset="1.0000" stop-color="#002dff"/></linearGradient><linearGradient id="r193" x1="0" x2="1" y1="0" y2="0"><stop offset="0.0000" stop-color="#0027ff"/><stop offset="1.0000" stop-color="#0016ff"/></linearGradient><linearGradient id="r194" x1="0" x2="1" y1="0" y2="0"><stop offset="0.0000" stop-color="#0018ff"/><stop offset="1.0000" stop-color="#0009ff"/></linearGradient><linearGradient id="r195" x1="0" x2="1" y1="0" y2="0"><stop offset="0.0000" stop-color="#0009ff"/><stop offset="0.6724" stop-color="#0000ff"/><stop offset="1.0000" stop-color="#0000fb"/></linearGradient><linearGradient id="r196" x1="0" x2="1" y1="0" y2="0"><stop offset="0.0000" stop-color="#0000f9"/><stop offset="1.0000" stop-color="#0000ed"/></linearGradient><linearGradient id="r197" x1="0" x2="1" y1="0" y2="0"><stop offset="0.0000" stop-color="#0000f0"/><stop offset="1.0000" stop-color="#0000e5"/></linearGradient><linearGradient id="r198" x1="0" x2="1" y1="0" y2="0"><stop offset="0.0000" stop-color="#0000ec"/><stop offset="1.0000" stop-color="#0000e1"/></linearGradient><linearGradient id="r199" x1="0" x2="1" y1="0" y2="0"><stop offset="0.0000" stop-color="#0000e8"/><stop offset="1.0000" stop-color="#0000dd"/></linearGradient><linearGradient id="r200" x1="0" x2="1" y1="0" y2="0"><stop offset="0.0000" stop-color="#0000e4"/><stop offset="1.0000" stop-color="#0000da"/></linearGradient><linearGradient id="r201" x1="0" x2="1" y1="0" y2="0"><stop offset="0.0000" stop-color="#0000e0"/><stop offset="1.0000" stop-color="#0000d6"/></linearGradient><linearGradient id="r202" x1="0" x2="1" y1="0" y2="0"><stop offset="0.0000" stop-color="#0000db"/><stop offset="1.0000" stop-color="#0000d2"/></linearGradient><linearGradient id="r203" x1="0" x2="1" y1="0" y2="0"><stop offset="0.0000" stop-color="#0000d7"/><stop offset="1.0000" stop-color="#0000cf"/></linearGradient><linearGradient id="r204" x1="0" x2="1" y1="0" y2="0"><stop offset="0.0000" stop-color="#0000d3"/><stop offset="1.0000" stop-color="#0000cb"/></linearGradient><linearGradient id="r205" x1="0" x2="1" y1="0" y2="0"><stop offset="0.0000" stop-color="#0000cf"/><stop offset="1.0000" stop-color="#0000c7"/></linearGradient><linearGradient id="r206" x1="0" x2="1" y1="0" y2="0"><stop offset="0.0000" stop-color="#0000cb"/><stop offset="1.0000" stop-color="#0000c4"/></linearGradient><linearGradient id="r207" x1="0" x2="1" y1="0" y2="0"><stop offset="0.0000" stop-color="#0000ca"/><stop offset="1.0000" stop-color="#0000c2"/></linearGradient><linearGradient id="r208" x1="0" x2="1" y1="0" y2="0"><stop offset="0.0000" stop-color="#0000c8"/><stop offset="1.0000" stop-color="#0000c0"/></linearGradient><linearGradient id="r209" x1="0" x2="1" y1="0" y2="0"><stop offset="0.0000" stop-color="#0000c6"/><stop offset="1.0000" stop-color="#0000bf"/></linearGradient><linearGradient id="r210" x1="0" x2="1" y1="0" y2="0"><stop offset="0.0000" stop-color="#0000c4"/><stop offset="1.0000" stop-color="#0000bd"/></linearGradient><linearGradient id="r211" x1="0" x2="1" y1="0" y2="0"><stop offset="0.0000" stop-color="#0000c2"/><stop offset="1.0000" stop-color="#0000bb"/></linearGradient><linearGradient id="r212" x1="0" x2="1" y1="0" y2="0"><stop offset="0.0000" stop-color="#0000c0"/><stop offset="1.0000" stop-color="#0000b9"/></linearGradient><linearGradient id="r213" x1="0" x2="1" y1="0" y2="0"><stop offset="0.0000" stop-color="#0000be"/><stop offset="1.0000" stop-color="#0000b7"/></linearGradient><linearGradient id="r214" x1="0" x2="1" y1="0" y2="0"><stop offset="0.0000" stop-color="#0000bc"/><stop offset="1.0000" stop-color="#0000b6"/></linearGradient><linearGradient id="r215" x1="0" x2="1" y1="0" y2="0"><stop offset="0.0000" stop-color="#0000ba"/><stop offset="1.0000" stop-color="#0000b4"/></linearGradient><linearGradient id="r216" x1="0" x2="1" y1="0" y2="0"><stop offset="0.0000" stop-color="#0000b8"/><stop offset="1.0000" stop-color="#0000b2"/></linearGradient><linearGradient id="r217" x1="0" x2="1" y1="0" y2="0"><stop offset="0.0000" stop-color="#0000b6"/><stop offset="1.0000" stop-color="#0000b0"/></linearGradient><linearGradient id="r218" x1="0" x2="1" y1="0" y2="0"><stop offset="0.0000" stop-color="#0000b4"/><stop offset="1.0000" stop-color="#0000af"/></linearGradient><linearGradient id="r219" x1="0" x2="1" y1="0" y2="0"><stop offset="0.0000" stop-color="#0000b3"/><stop offset="1.0000" stop-color="#0000ae"/></linearGradient><linearGradient id="r220" x1="0" x2="1" y1="0" y2="0"><stop offset="0.0000" stop-color="#0000b3"/><stop offset="1.0000" stop-color="#0000ad"/></linearGradient><linearGradient id="r221" x1="0" x2="1" y1="0" y2="0"><stop offset="0.0000" stop-color="#0000b2"/><stop offset="1.0000" stop-color="#0000ad"/></linearGradient><linearGradient id="r222" x1="0" x2="1" y1="0" y2="0"><stop offset="0.0000" stop-color="#0000b1"/><stop offset="1.0000" stop-color="#0000ac"/></linearGradient><linearGradient id="r223" x1="0" x2="1" y1="0" y2="0"><stop offset="0.0000" stop-color="#0000b0"/><stop offset="1.0000" stop-color="#0000ab"/></linearGradient><linearGradient id="r224" x1="0" x2="1" y1="0" y2="0"><stop offset="0.0000" stop-color="#0000af"/><stop offset="1.0000" stop-color="#0000aa"/></linearGradient><linearGradient id="r225" x1="0" x2="1" y1="0" y2="0"><stop offset="0.0000" stop-color="#0000ae"/><stop offset="1.0000" stop-color="#0000a9"/></linearGradient><linearGradient id="r226" x1="0" x2="1" y1="0" y2="0"><stop offset="0.0000" stop-color="#0000ad"/><stop offset="1.0000" stop-color="#0000a8"/></linearGradient><linearGradient id="r227" x1="0" x2="1" y1="0" y2="0"><stop offset="0.0000" stop-color="#0000ac"/><stop offset="1.0000" stop-color="#0000a8"/></linearGradient><linearGradient id="r228" x1="0" x2="1" y1="0" y2="0"><stop offset="0.0000" stop-color="#0000ab"/><stop offset="1.0000" stop-color="#0000a7"/></linearGradient><linearGradient id="r229" x1="0" x2="1" y1="0" y2="0"><stop offset="0.0000" stop-color="#0000aa"/><stop offset="1.0000" stop-color="#0000a6"/></linearGradient><linearGradient id="r230" x1="0" x2="1" y1="0" y2="0"><stop offset="0.0000" stop-color="#0000a9"/><stop offset="1.0000" stop-color="#0000a5"/></linearGradient><linearGradient id="r231" x1="0" x2="1" y1="0" y2="0"><stop offset="0.0000" stop-color="#0000a8"/><stop offset="1.0000" stop-color="#0000a4"/></linearGradient><linearGradient id="r232" x1="0" x2="1" y1="0" y2="0"><stop offset="0.0000" stop-color="#0000a8"/><stop offset="1.0000" stop-color="#0000a4"/></linearGradient><linearGradient id="c233" gradientUnits="userSpaceOnUse" x1="0" x2="0" y1="428.50" y2="534.40"><stop offset="-0.0047" stop-color="#f8f8ff"/><stop offset="0.2308" stop-color="#f8f8ff"/><stop offset="0.2508" stop-color="#fbfbff"/><stop offset="0.3366" stop-color="#fbfbff"/><stop offset="0.3410" stop-color="#ffffff"/><stop offset="0.3566" stop-color="#fff0f0"/><stop offset="0.4074" stop-color="#fff0f0"/><stop offset="0.4274" stop-color="#ffd4d4"/><stop offset="0.4508" stop-color="#ffd4d4"/><stop offset="0.4708" stop-color="#ffb9b9"/><stop offset="0.5301" stop-color="#ffb9b9"/><stop offset="0.5501" stop-color="#ffeaea"/><stop offset="0.5830" stop-color="#ffeaea"/><stop offset="0.5991" stop-color="#ffffff"/><stop offset="0.6030" stop-color="#fafaff"/><stop offset="1.0057" stop-color="#fafaff"/></linearGradient><linearGradient id="c234" gradientUnits="userSpaceOnUse" x1="0" x2="0" y1="428.50" y2="534.40"><stop offset="-0.0047" stop-color="#f8f8ff"/><stop offset="0.1609" stop-color="#f8f8ff"/><stop offset="0.1637" stop-color="#ffffff"/><stop offset="0.1809" stop-color="#ffd4d4"/><stop offset="0.2308" stop-color="#ffd4d4"/><stop offset="0.2508" stop-color="#ff9090"/><stop offset="0.3016" stop-color="#ff9090"/><stop offset="0.3216" stop-color="#ff5e5e"/><stop offset="0.3441" stop-color="#ff5e5e"/><stop offset="0.3641" stop-color="#ff5151"/><stop offset="0.4008" stop-color="#ff5151"/><stop offset="0.4208" stop-color="#ff5e5e"/><stop offset="0.4244" stop-color="#ff5e5e"/><stop offset="0.4444" stop-color="#ffcdcd"/><stop offset="0.4952" stop-color="#ffcdcd"/><stop offset="0.5152" stop-color="#fff4f4"/><stop offset="0.5651" stop-color="#fff4f4"/><stop offset="0.5781" stop-color="#ffffff"/><stop offset="0.5851" stop-color="#f9f9ff"/><stop offset="1.0057" stop-color="#f9f9ff"/></linearGradient><linearGradient id="c235" gradientUnits="userSpaceOnUse" x1="0" x2="0" y1="428.50" y2="534.40"><stop offset="-0.0047" stop-color="#fff4f4"/><stop offset="0.1430" stop-color="#fff4f4"/><stop offset="0.1630" stop-color="#ffeaea"/><stop offset="0.1959" stop-color="#ffeaea"/><stop offset="0.2120" stop-color="#ffffff"/><stop offset="0.2159" stop-color="#fafaff"/><stop offset="0.3545" stop-color="#fafaff"/><stop offset="0.3745" stop-color="#cdcdff"/><stop offset="0.4074" stop-color="#cdcdff"/><stop offset="0.4274" stop-color="#9c9cff"/><stop offset="0.4423" stop-color="#9c9cff"/><stop offset="0.4623" stop-color="#6c6cff"/><stop offset="0.5122" stop-color="#6c6cff"/><stop offset="0.5322" stop-color="#b4b4ff"/><stop offset="0.5830" stop-color="#b4b4ff"/><stop offset="0.6030" stop-color="#e3e3ff"/><stop offset="0.7237" stop-color="#e3e3ff"/><stop offset="0.7437" stop-color="#f8f8ff"/><stop offset="1.0057" stop-color="#f8f8ff"/></linearGradient><linearGradient id="c236" gradientUnits="userSpaceOnUse" x1="0" x2="0" y1="428.50" y2="534.40"><stop offset="-0.0047" stop-color="#f8f8ff"/><stop offset="0.2837" stop-color="#f8f8ff"/><stop offset="0.3037" stop-color="#d4d4ff"/><stop offset="0.3894" stop-color="#d4d4ff"/><stop offset="0.4094" stop-color="#eaeaff"/><stop offset="0.4423" stop-color="#eaeaff"/><stop offset="0.4623" stop-color="#f4f4ff"/><stop offset="0.5122" stop-color="#f4f4ff"/><stop offset="0.5322" stop-color="#fafaff"/><stop offset="1.0057" stop-color="#fafaff"/></linearGradient><linearGradient id="c237" gradientUnits="userSpaceOnUse" x1="0" x2="0" y1="428.50" y2="534.40"><stop offset="-0.0047" stop-color="#f6f6ff"/><stop offset="0.0910" stop-color="#f6f6ff"/><stop offset="0.1110" stop-color="#e7e7ff"/><stop offset="0.2487" stop-color="#e7e7ff"/><stop offset="0.2687" stop-color="#d4d4ff"/><stop offset="0.3894" stop-color="#d4d4ff"/><stop offset="0.4094" stop-color="#9c9cff"/><stop offset="0.4423" stop-color="#9c9cff"/><stop offset="0.4623" stop-color="#7f7fff"/><stop offset="0.5301" stop-color="#7f7fff"/><stop offset="0.5501" stop-color="#bfbfff"/><stop offset="0.6000" stop-color="#bfbfff"/><stop offset="0.6200" stop-color="#e3e3ff"/><stop offset="0.7237" stop-color="#e3e3ff"/><stop offset="0.7437" stop-color="#f8f8ff"/><stop offset="1.0057" stop-color="#f8f8ff"/></linearGradient><linearGradient id="c238" gradientUnits="userSpaceOnUse" x1="0" x2="0" y1="428.50" y2="534.40"><stop offset="-0.0047" stop-color="#f8f8ff"/><stop offset="0.1260" stop-color="#f8f8ff"/><stop offset="0.1460" stop-color="#f4f4ff"/><stop offset="0.1789" stop-color="#f4f4ff"/><stop offset="0.1989" stop-color="#c6c6ff"/><stop offset="0.2837" stop-color="#c6c6ff"/><stop offset="0.3037" stop-color="#9090ff"/><stop offset="0.3545" stop-color="#9090ff"/><stop offset="0.3745" stop-color="#6666ff"/><stop offset="0.4423" stop-color="#6666ff"/><stop offset="0.4623" stop-color="#bfbfff"/><stop offset="0.5122" stop-color="#bfbfff"/><stop offset="0.5322" stop-color="#f6f6ff"/><stop offset="0.5830" stop-color="#f6f6ff"/><stop offset="0.6030" stop-color="#fbfbff"/><stop offset="1.0057" stop-color="#fbfbff"/></linearGradient><linearGradient id="c239" gradientUnits="userSpaceOnUse" x1="0" x2="0" y1="428.50" y2="534.40"><stop offset="-0.0047" stop-color="#f8f8ff"/><stop offset="0.1260" stop-color="#f8f8ff"/><stop offset="0.1460" stop-color="#e7e7ff"/><stop offset="0.2837" stop-color="#e7e7ff"/><stop offset="0.3037" stop-color="#ffffff"/><stop offset="0.3366" stop-color="#ffffff"/><stop offset="0.3566" stop-color="#ffdbdb"/><stop offset="0.3894" stop-color="#ffdbdb"/><stop offset="0.4094" stop-color="#ff7777"/><stop offset="0.4423" stop-color="#ff7777"/><stop offset="0.4623" stop-color="#ff5959"/><stop offset="0.4669" stop-color="#ff5959"/><stop offset="0.4869" stop-color="#ff5151"/><stop offset="0.5235" stop-color="#ff5151"/><stop offset="0.5368" stop-color="#ff5959"/><stop offset="0.5368" stop-color="#ff5959"/><stop offset="0.5501" stop-color="#ff9090"/><stop offset="0.5830" stop-color="#ff9090"/><stop offset="0.6030" stop-color="#ffdbdb"/><stop offset="0.6878" stop-color="#ffdbdb"/><stop offset="0.7078" stop-color="#fff6f6"/><stop offset="0.7936" stop-color="#fff6f6"/><stop offset="0.8061" stop-color="#ffffff"/><stop offset="0.8136" stop-color="#fafaff"/><stop offset="1.0057" stop-color="#fafaff"/></linearGradient><linearGradient id="c240" gradientUnits="userSpaceOnUse" x1="0" x2="0" y1="428.50" y2="534.40"><stop offset="-0.0047" stop-color="#f0f0ff"/><stop offset="0.0731" stop-color="#f0f0ff"/><stop offset="0.0931" stop-color="#fbfbff"/><stop offset="0.1789" stop-color="#fbfbff"/><stop offset="0.1822" stop-color="#ffffff"/><stop offset="0.1989" stop-color="#ffeaea"/><stop offset="0.2837" stop-color="#ffeaea"/><stop offset="0.3037" stop-color="#ffdbdb"/><stop offset="0.3894" stop-color="#ffdbdb"/><stop offset="0.4094" stop-color="#fff0f0"/><stop offset="0.5122" stop-color="#fff0f0"/><stop offset="0.5322" stop-color="#ffffff"/><stop offset="0.5651" stop-color="#ffffff"/><stop offset="0.5851" stop-color="#e7e7ff"/><stop offset="0.7936" stop-color="#e7e7ff"/><stop offset="0.8136" stop-color="#f6f6ff"/><stop offset="1.0057" stop-color="#f6f6ff"/></linearGradient><linearGradient id="c241" gradientUnits="userSpaceOnUse" x1="0" x2="0" y1="428.50" y2="534.40"><stop offset="-0.0047" stop-color="#fafaff"/><stop offset="0.1260" stop-color="#fafaff"/><stop offset="0.1335" stop-color="#ffffff"/><stop offset="0.1460" stop-color="#fff6f6"/><stop offset="0.2138" stop-color="#fff6f6"/><stop offset="0.2338" stop-color="#ffffff"/><stop offset="0.3016" stop-color="#ffffff"/><stop offset="0.3216" stop-color="#ffdbdb"/><stop offset="0.3894" stop-color="#ffdbdb"/><stop offset="0.4094" stop-color="#ff9090"/><stop offset="0.4574" stop-color="#ff9090"/><stop offset="0.4774" stop-color="#ff7777"/><stop offset="0.5301" stop-color="#ff7777"/><stop offset="0.5501" stop-color="#ffd4d4"/><stop offset="0.6000" stop-color="#ffd4d4"/><stop offset="0.6200" stop-color="#fff6f6"/><stop offset="0.7237" stop-color="#fff6f6"/><stop offset="0.7355" stop-color="#ffffff"/><stop offset="0.7437" stop-color="#f9f9ff"/><stop offset="1.0057" stop-color="#f9f9ff"/></linearGradient><linearGradient id="c242" gradientUnits="userSpaceOnUse" x1="0" x2="0" y1="428.50" y2="534.40"><stop offset="-0.0047" stop-color="#fbfbff"/><stop offset="0.0910" stop-color="#fbfbff"/><stop offset="0.1110" stop-color="#ffffff"/><stop offset="0.1609" stop-color="#ffffff"/><stop offset="0.1809" stop-color="#ffcdcd"/><stop offset="0.2487" stop-color="#ffcdcd"/><stop offset="0.2687" stop-color="#ff8888"/><stop offset="0.3016" stop-color="#ff8888"/><stop offset="0.3216" stop-color="#ff5959"/><stop offset="0.3252" stop-color="#ff5959"/><stop offset="0.3452" stop-color="#ff5151"/><stop offset="0.4102" stop-color="#ff5151"/><stop offset="0.4302" stop-color="#ff5e5e"/><stop offset="0.4593" stop-color="#ff5e5e"/><stop offset="0.4793" stop-color="#ffbfbf"/><stop offset="0.5301" stop-color="#ffbfbf"/><stop offset="0.5501" stop-color="#fff0f0"/><stop offset="0.6000" stop-color="#fff0f0"/><stop offset="0.6149" stop-color="#ffffff"/><stop offset="0.6200" stop-color="#fafaff"/><stop offset="1.0057" stop-color="#fafaff"/></linearGradient><linearGradient id="c243" gradientUnits="userSpaceOnUse" x1="0" x2="0" y1="428.50" y2="534.40"><stop offset="-0.0047" stop-color="#fff8f8"/><stop offset="0.0382" stop-color="#fff8f8"/><stop offset="0.0582" stop-color="#ffeaea"/><stop offset="0.2667" stop-color="#ffeaea"/><stop offset="0.2867" stop-color="#ffffff"/><stop offset="0.3196" stop-color="#ffffff"/><stop offset="0.3396" stop-color="#dbdbff"/><stop offset="0.3715" stop-color="#dbdbff"/><stop offset="0.3915" stop-color="#6262ff"/><stop offset="0.4423" stop-color="#6262ff"/><stop offset="0.4623" stop-color="#6666ff"/><stop offset="0.5301" stop-color="#6666ff"/><stop offset="0.5501" stop-color="#a8a8ff"/><stop offset="0.6529" stop-color="#a8a8ff"/><stop offset="0.6729" stop-color="#e3e3ff"/><stop offset="0.7586" stop-color="#e3e3ff"/><stop offset="0.7786" stop-color="#f6f6ff"/><stop offset="1.0057" stop-color="#f6f6ff"/></linearGradient><linearGradient id="c244" gradientUnits="userSpaceOnUse" x1="0" x2="0" y1="428.50" y2="534.40"><stop offset="-0.0047" stop-color="#fbfbff"/><stop offset="0.0910" stop-color="#fbfbff"/><stop offset="0.1110" stop-color="#f0f0ff"/><stop offset="0.1789" stop-color="#f0f0ff"/><stop offset="0.1989" stop-color="#e3e3ff"/><stop offset="0.3016" stop-color="#e3e3ff"/><stop offset="0.3216" stop-color="#fbfbff"/><stop offset="0.4244" stop-color="#fbfbff"/><stop offset="0.4310" stop-color="#ffffff"/><stop offset="0.4444" stop-color="#fff6f6"/><stop offset="0.4952" stop-color="#fff6f6"/><stop offset="0.4985" stop-color="#ffffff"/><stop offset="0.5152" stop-color="#d4d4ff"/><stop offset="0.7756" stop-color="#d4d4ff"/><stop offset="0.7956" stop-color="#f0f0ff"/><stop offset="1.0057" stop-color="#f0f0ff"/></linearGradient><linearGradient id="c245" gradientUnits="userSpaceOnUse" x1="0" x2="0" y1="428.50" y2="534.40"><stop offset="-0.0047" stop-color="#f8f8ff"/><stop offset="0.1959" stop-color="#f8f8ff"/><stop offset="0.2159" stop-color="#f0f0ff"/><stop offset="0.3016" stop-color="#f0f0ff"/><stop offset="0.3216" stop-color="#ffffff"/><stop offset="0.3715" stop-color="#ffffff"/><stop offset="0.3915" stop-color="#ffdbdb"/><stop offset="0.4423" stop-color="#ffdbdb"/><stop offset="0.4623" stop-color="#ffbfbf"/><stop offset="0.5471" stop-color="#ffbfbf"/><stop offset="0.5671" stop-color="#ffeaea"/><stop offset="0.7237" stop-color="#ffeaea"/><stop offset="0.7389" stop-color="#ffffff"/><stop offset="0.7437" stop-color="#f8f8ff"/><stop offset="1.0057" stop-color="#f8f8ff"/></linearGradient><linearGradient id="c246" gradientUnits="userSpaceOnUse" x1="0" x2="0" y1="428.50" y2="534.40"><stop offset="-0.0047" stop-color="#f8f8ff"/><stop offset="0.0910" stop-color="#f8f8ff"/><stop offset="0.1110" stop-color="#ffffff"/><stop offset="0.1430" stop-color="#ffffff"/><stop offset="0.1630" stop-color="#ffd4d4"/><stop offset="0.2308" stop-color="#ffd4d4"/><stop offset="0.2508" stop-color="#ff9090"/><stop offset="0.3366" stop-color="#ff9090"/><stop offset="0.3566" stop-color="#ff5959"/><stop offset="0.3630" stop-color="#ff5959"/><stop offset="0.3830" stop-color="#ff4949"/><stop offset="0.4197" stop-color="#ff4949"/><stop offset="0.4397" stop-color="#ff5959"/><stop offset="0.4423" stop-color="#ff5959"/><stop offset="0.4623" stop-color="#ffbfbf"/><stop offset="0.5122" stop-color="#ffbfbf"/><stop offset="0.5322" stop-color="#fffbfb"/><stop offset="0.5830" stop-color="#fffbfb"/><stop offset="0.5907" stop-color="#ffffff"/><stop offset="0.6030" stop-color="#f8f8ff"/><stop offset="1.0057" stop-color="#f8f8ff"/></linearGradient><linearGradient id="c247" gradientUnits="userSpaceOnUse" x1="0" x2="0" y1="428.50" y2="534.40"><stop offset="-0.0047" stop-color="#fbfbff"/><stop offset="0.1260" stop-color="#fbfbff"/><stop offset="0.1293" stop-color="#ffffff"/><stop offset="0.1460" stop-color="#ffeaea"/><stop offset="0.3016" stop-color="#ffeaea"/><stop offset="0.3195" stop-color="#ffffff"/><stop offset="0.3216" stop-color="#fcfcff"/><stop offset="0.4074" stop-color="#fcfcff"/><stop offset="0.4274" stop-color="#9090ff"/><stop offset="0.4593" stop-color="#9090ff"/><stop offset="0.4793" stop-color="#7777ff"/><stop offset="0.5471" stop-color="#7777ff"/><stop offset="0.5671" stop-color="#c6c6ff"/><stop offset="0.6180" stop-color="#c6c6ff"/><stop offset="0.6380" stop-color="#dbdbff"/><stop offset="0.7586" stop-color="#dbdbff"/><stop offset="0.7786" stop-color="#f6f6ff"/><stop offset="1.0057" stop-color="#f6f6ff"/></linearGradient><linearGradient id="c248" gradientUnits="userSpaceOnUse" x1="0" x2="0" y1="428.50" y2="534.40"><stop offset="-0.0047" stop-color="#fbfbff"/><stop offset="0.1260" stop-color="#fbfbff"/><stop offset="0.1460" stop-color="#eaeaff"/><stop offset="0.2138" stop-color="#eaeaff"/><stop offset="0.2338" stop-color="#cdcdff"/><stop offset="0.3894" stop-color="#cdcdff"/><stop offset="0.4094" stop-color="#e3e3ff"/><stop offset="0.4952" stop-color="#e3e3ff"/><stop offset="0.5152" stop-color="#ffffff"/><stop offset="0.5301" stop-color="#ffffff"/><stop offset="0.5501" stop-color="#fff6f6"/><stop offset="1.0057" stop-color="#fff6f6"/></linearGradient><linearGradient id="cb249" x1="0" x2="0" y1="0" y2="1"><stop offset="0.0000" stop-color="#800000"/><stop offset="0.1250" stop-color="#ff0000"/><stop offset="0.3750" stop-color="#ffff00"/><stop offset="0.6250" stop-color="#00ffff"/><stop offset="0.8750" stop-color="#0000ff"/><stop offset="1.0000" stop-color="#000080"/></linearGradient><linearGradient id="cb250" x1="0" x2="0" y1="0" y2="1"><stop offset="0" stop-color="#ff0000"/><stop offset="0.5" stop-color="#ffffff"/><stop offset="1" stop-color="#0000ff"/></linearGradient><clipPath id="clip251"><rect x="35.50" y="301.50" width="146.70" height="179.90"/></clipPath><linearGradient id="cb252" x1="0" x2="1" y1="0" y2="0"><stop offset="0" stop-color="#0000ff"/><stop offset="0.5" stop-color="#ffffff"/><stop offset="1" stop-color="#ff0000"/></linearGradient></defs><rect width="685" height="575" fill="#ffffff"/><g><rect x="235.70" y="6.200" width="367.00" height="0.820" fill="url(#r1)"/><rect x="235.70" y="7.000" width="367.00" height="1.020" fill="url(#r2)"/><rect x="235.70" y="8.000" width="367.00" height="1.020" fill="url(#r3)"/><rect x="235.70" y="9.000" width="367.00" height="1.020" fill="url(#r4)"/><rect x="235.70" y="10.000" width="367.00" height="1.020" fill="url(#r5)"/><rect x="235.70" y="11.000" width="367.00" height="1.020" fill="url(#r6)"/><rect x="235.70" y="12.000" width="367.00" height="1.020" fill="url(#r7)"/><rect x="235.70" y="13.000" width="367.00" height="1.020" fill="url(#r8)"/><rect x="235.70" y="14.000" width="367.00" height="1.020" fill="url(#r9)"/><rect x="235.70" y="15.000" width="367.00" height="1.020" fill="url(#r10)"/><rect x="235.70" y="16.000" width="367.00" height="1.020" fill="url(#r11)"/><rect x="235.70" y="17.000" width="367.00" height="1.020" fill="url(#r12)"/><rect x="235.70" y="18.000" width="367.00" height="1.020" fill="url(#r13)"/><rect x="235.70" y="19.000" width="367.00" height="1.020" fill="url(#r14)"/><rect x="235.70" y="20.000" width="367.00" height="1.020" fill="url(#r15)"/><rect x="235.70" y="21.000" width="367.00" height="1.020" fill="url(#r16)"/><rect x="235.70" y="22.000" width="367.00" height="1.020" fill="url(#r17)"/><rect x="235.70" y="23.000" width="367.00" height="1.020" fill="url(#r18)"/><rect x="235.70" y="24.000" width="367.00" height="1.020" fill="url(#r19)"/><rect x="235.70" y="25.000" width="367.00" height="1.020" fill="url(#r20)"/><rect x="235.70" y="26.000" width="367.00" height="1.020" fill="url(#r21)"/><rect x="235.70" y="27.000" width="367.00" height="1.020" fill="url(#r22)"/><rect x="235.70" y="28.000" width="367.00" height="1.020" fill="url(#r23)"/><rect x="235.70" y="29.000" width="367.00" height="1.020" fill="url(#r24)"/><rect x="235.70" y="30.000" width="367.00" height="1.020" fill="url(#r25)"/><rect x="235.70" y="31.000" width="367.00" height="1.020" fill="url(#r26)"/><rect x="235.70" y="32.000" width="367.00" height="1.020" fill="url(#r27)"/><rect x="235.70" y="33.000" width="367.00" height="1.020" fill="url(#r28)"/><rect x="235.70" y="34.000" width="367.00" height="1.020" fill="url(#r29)"/><rect x="235.70" y="35.000" width="367.00" height="1.020" fill="url(#r30)"/><rect x="235.70" y="36.000" width="367.00" height="1.020" fill="url(#r31)"/><rect x="235.70" y="37.000" width="367.00" height="1.020" fill="url(#r32)"/><rect x="235.70" y="38.000" width="367.00" height="1.020" fill="url(#r33)"/><rect x="235.70" y="39.000" width="367.00" height="1.020" fill="url(#r34)"/><rect x="235.70" y="40.000" width="367.00" height="1.020" fill="url(#r35)"/><rect x="235.70" y="41.000" width="367.00" height="1.020" fill="url(#r36)"/><rect x="235.70" y="42.000" width="367.00" height="1.020" fill="url(#r37)"/><rect x="235.70" y="43.000" width="367.00" height="1.020" fill="url(#r38)"/><rect x="235.70" y="44.000" width="367.00" height="1.020" fill="url(#r39)"/><rect x="235.70" y="45.000" width="367.00" height="1.020" fill="url(#r40)"/><rect x="235.70" y="46.000" width="367.00" height="1.020" fill="url(#r41)"/><rect x="235.70" y="47.000" width="367.00" height="1.020" fill="url(#r42)"/><rect x="235.70" y="48.000" width="367.00" height="1.020" fill="url(#r43)"/><rect x="235.70" y="49.000" width="367.00" height="1.020" fill="url(#r44)"/><rect x="235.70" y="50.000" width="367.00" height="1.020" fill="url(#r45)"/><rect x="235.70" y="51.000" width="367.00" height="1.020" fill="url(#r46)"/><rect x="235.70" y="52.000" width="367.00" height="1.020" fill="url(#r47)"/><rect x="235.70" y="53.000" width="367.00" height="1.020" fill="url(#r48)"/><rect x="235.70" y="54.000" width="367.00" height="1.020" fill="url(#r49)"/><rect x="235.70" y="55.000" width="367.00" height="1.020" fill="url(#r50)"/><rect x="235.70" y="56.000" width="367.00" height="1.020" fill="url(#r51)"/><rect x="235.70" y="57.000" width="367.00" height="1.020" fill="url(#r52)"/><rect x="235.70" y="58.000" width="367.00" height="1.020" fill="url(#r53)"/><rect x="235.70" y="59.000" width="367.00" height="1.020" fill="url(#r54)"/><rect x="235.70" y="60.000" width="367.00" height="1.020" fill="url(#r55)"/><rect x="235.70" y="61.000" width="367.00" height="1.020" fill="url(#r56)"/><rect x="235.70" y="62.000" width="367.00" height="1.020" fill="url(#r57)"/><rect x="235.70" y="63.000" width="367.00" height="1.020" fill="url(#r58)"/><rect x="235.70" y="64.000" width="367.00" height="1.020" fill="url(#r59)"/><rect x="235.70" y="65.000" width="367.00" height="1.020" fill="url(#r60)"/><rect x="235.70" y="66.000" width="367.00" height="1.020" fill="url(#r61)"/><rect x="235.70" y="67.000" width="367.00" height="1.020" fill="url(#r62)"/><rect x="235.70" y="68.000" width="367.00" height="1.020" fill="url(#r63)"/><rect x="235.70" y="69.000" width="367.00" height="1.020" fill="url(#r64)"/><rect x="235.70" y="70.000" width="367.00" height="1.020" fill="url(#r65)"/><rect x="235.70" y="71.000" width="367.00" height="1.020" fill="url(#r66)"/><rect x="235.70" y="72.000" width="367.00" height="1.020" fill="url(#r67)"/><rect x="235.70" y="73.000" width="367.00" height="1.020" fill="url(#r68)"/><rect x="235.70" y="74.000" width="367.00" height="1.020" fill="url(#r69)"/><rect x="235.70" y="75.000" width="367.00" height="1.020" fill="url(#r70)"/><rect x="235.70" y="76.000" width="367.00" height="1.020" fill="url(#r71)"/><rect x="235.70" y="77.000" width="367.00" height="1.020" fill="url(#r72)"/><rect x="235.70" y="78.000" width="367.00" height="1.020" fill="url(#r73)"/><rect x="235.70" y="79.000" width="367.00" height="1.020" fill="url(#r74)"/><rect x="235.70" y="80.000" width="367.00" height="1.020" fill="url(#r75)"/><rect x="235.70" y="81.000" width="367.00" height="1.020" fill="url(#r76)"/><rect x="235.70" y="82.000" width="367.00" height="1.020" fill="url(#r77)"/><rect x="235.70" y="83.000" width="367.00" height="1.020" fill="url(#r78)"/><rect x="235.70" y="84.000" width="367.00" height="1.020" fill="url(#r79)"/><rect x="235.70" y="85.000" width="367.00" height="1.020" fill="url(#r80)"/><rect x="235.70" y="86.000" width="367.00" height="1.020" fill="url(#r81)"/><rect x="235.70" y="87.000" width="367.00" height="1.020" fill="url(#r82)"/><rect x="235.70" y="88.000" width="367.00" height="1.020" fill="url(#r83)"/><rect x="235.70" y="89.000" width="367.00" height="1.020" fill="url(#r84)"/><rect x="235.70" y="90.000" width="367.00" height="1.020" fill="url(#r85)"/><rect x="235.70" y="91.000" width="367.00" height="1.020" fill="url(#r86)"/><rect x="235.70" y="92.000" width="367.00" height="1.020" fill="url(#r87)"/><rect x="235.70" y="93.000" width="367.00" height="1.020" fill="url(#r88)"/><rect x="235.70" y="94.000" width="367.00" height="1.020" fill="url(#r89)"/><rect x="235.70" y="95.000" width="367.00" height="1.020" fill="url(#r90)"/><rect x="235.70" y="96.000" width="367.00" height="1.020" fill="url(#r91)"/><rect x="235.70" y="97.000" width="367.00" height="1.020" fill="url(#r92)"/><rect x="235.70" y="98.000" width="367.00" height="1.020" fill="url(#r93)"/><rect x="235.70" y="99.000" width="367.00" height="1.020" fill="url(#r94)"/><rect x="235.70" y="100.000" width="367.00" height="1.020" fill="url(#r95)"/><rect x="235.70" y="101.000" width="367.00" height="1.020" fill="url(#r96)"/><rect x="235.70" y="102.000" width="367.00" height="1.020" fill="url(#r97)"/><rect x="235.70" y="103.000" width="367.00" height="1.020" fill="url(#r98)"/><rect x="235.70" y="104.000" width="367.00" height="1.020" fill="url(#r99)"/><rect x="235.70" y="105.000" width="367.00" height="1.020" fill="url(#r100)"/><rect x="235.70" y="106.000" width="367.00" height="1.020" fill="url(#r101)"/><rect x="235.70" y="107.000" width="367.00" height="1.020" fill="url(#r102)"/><rect x="235.70" y="108.000" width="367.00" height="1.020" fill="url(#r103)"/><rect x="235.70" y="109.000" width="367.00" height="1.020" fill="url(#r104)"/><rect x="235.70" y="110.000" width="367.00" height="1.020" fill="url(#r105)"/><rect x="235.70" y="111.000" width="367.00" height="0.420" fill="url(#r106)"/></g><rect x="235.70" y="6.20" width="367.00" height="106.10" fill="none" stroke="#262626" stroke-width="0.80"/><path d="M281.57 112.30v-4.00M281.57 6.20v4.00M373.33 112.30v-4.00M373.33 6.20v4.00M465.08 112.30v-4.00M465.08 6.20v4.00M556.83 112.30v-4.00M556.83 6.20v4.00M235.70 91.08h4.00M602.70 91.08h-4.00M235.70 48.64h4.00M602.70 48.64h-4.00M235.70 6.20h4.00M602.70 6.20h-4.00" stroke="#262626" stroke-width="0.8" fill="none"/><text x="230.50" y="95.88" font-size="13.90" text-anchor="end" fill="#000000" stroke="#000000" stroke-width="0.15" >200</text><text x="230.50" y="53.44" font-size="13.90" text-anchor="end" fill="#000000" stroke="#000000" stroke-width="0.15" >400</text><text x="230.50" y="11.00" font-size="13.90" text-anchor="end" fill="#000000" stroke="#000000" stroke-width="0.15" >600</text><text x="0.00" y="0.00" font-size="13.90" text-anchor="middle" fill="#000000" stroke="#000000" stroke-width="0.15" transform="translate(200.6 59.25) rotate(-90)">Height (km)</text><text x="245.50" y="21.90" font-size="13.90" text-anchor="start" fill="#ffffff" stroke="#ffffff" stroke-width="0.15" >(a) Background (hmF2-100 km)</text><rect x="235.70" y="138.50" width="22.99" height="105.40" fill="url(#c107)"/><rect x="258.64" y="138.50" width="22.99" height="105.40" fill="url(#c108)"/><rect x="281.57" y="138.50" width="22.99" height="105.40" fill="url(#c109)"/><rect x="304.51" y="138.50" width="22.99" height="105.40" fill="url(#c110)"/><rect x="327.45" y="138.50" width="22.99" height="105.40" fill="url(#c111)"/><rect x="350.39" y="138.50" width="22.99" height="105.40" fill="url(#c112)"/><rect x="373.33" y="138.50" width="22.99" height="105.40" fill="url(#c113)"/><rect x="396.26" y="138.50" width="22.99" height="105.40" fill="url(#c114)"/><rect x="419.20" y="138.50" width="22.99" height="105.40" fill="url(#c115)"/><rect x="442.14" y="138.50" width="22.99" height="105.40" fill="url(#c116)"/><rect x="465.08" y="138.50" width="22.99" height="105.40" fill="url(#c117)"/><rect x="488.01" y="138.50" width="22.99" height="105.40" fill="url(#c118)"/><rect x="510.95" y="138.50" width="22.99" height="105.40" fill="url(#c119)"/><rect x="533.89" y="138.50" width="22.99" height="105.40" fill="url(#c120)"/><rect x="556.83" y="138.50" width="22.99" height="105.40" fill="url(#c121)"/><rect x="579.76" y="138.50" width="22.99" height="105.40" fill="url(#c122)"/><polyline points="247.17,185.50 270.11,186.80 293.04,201.00 315.98,191.00 338.92,199.40 361.86,194.80 384.79,177.10 407.73,202.20 430.67,178.00 453.61,182.70 476.54,203.50 499.48,205.00 522.42,180.40 545.36,186.40 568.29,198.50 591.23,175.20" fill="none" stroke="#000000" stroke-width="1.55" stroke-dasharray="7.2 7"/><circle cx="590.03" cy="176.20" r="0.95" fill="#000"/><polyline points="247.17,202.20 270.11,183.20 293.04,207.80 315.98,207.80 338.92,208.70 361.86,192.90 384.79,206.90 407.73,221.70 430.67,209.60 453.61,186.40 476.54,206.80 499.48,221.70 522.42,218.00 545.36,185.50 568.29,211.50 591.23,225.00" fill="none" stroke="#ffffff" stroke-width="1.55" stroke-dasharray="7.2 7"/><rect x="235.70" y="138.50" width="367.00" height="105.90" fill="none" stroke="#262626" stroke-width="0.80"/><path d="M281.57 244.40v-4.00M281.57 138.50v4.00M373.33 244.40v-4.00M373.33 138.50v4.00M465.08 244.40v-4.00M465.08 138.50v4.00M556.83 244.40v-4.00M556.83 138.50v4.00M235.70 223.22h4.00M235.70 180.86h4.00M235.70 138.50h4.00M602.70 143.40h-4.00M602.70 191.40h-4.00M602.70 239.40h-4.00" stroke="#262626" stroke-width="0.8" fill="none"/><text x="230.50" y="228.02" font-size="13.90" text-anchor="end" fill="#000000" stroke="#000000" stroke-width="0.15" >200</text><text x="230.50" y="185.66" font-size="13.90" text-anchor="end" fill="#000000" stroke="#000000" stroke-width="0.15" >400</text><text x="230.50" y="143.30" font-size="13.90" text-anchor="end" fill="#000000" stroke="#000000" stroke-width="0.15" >600</text><text x="0.00" y="0.00" font-size="13.90" text-anchor="middle" fill="#000000" stroke="#000000" stroke-width="0.15" transform="translate(200.6 191.45) rotate(-90)">Height (km)</text><text x="245.70" y="153.90" font-size="13.90" text-anchor="start" fill="#000000" stroke="#000000" stroke-width="0.15" >(b) Output</text><text x="281.77" y="134.60" font-size="13.90" text-anchor="end" fill="#000000" stroke="#000000" stroke-width="0.15" >36</text><circle cx="284.27" cy="121.00" r="1.35" fill="none" stroke="#000000" stroke-width="0.7"/><text x="286.57" y="134.60" font-size="13.90" text-anchor="start" fill="#000000" stroke="#000000" stroke-width="0.15" >N</text><text x="281.77" y="267.00" font-size="13.90" text-anchor="end" fill="#000000" stroke="#000000" stroke-width="0.15" >36</text><circle cx="284.27" cy="253.40" r="1.35" fill="none" stroke="#000000" stroke-width="0.7"/><text x="286.57" y="267.00" font-size="13.90" text-anchor="start" fill="#000000" stroke="#000000" stroke-width="0.15" >N</text><text x="373.53" y="134.60" font-size="13.90" text-anchor="end" fill="#000000" stroke="#000000" stroke-width="0.15" >37</text><circle cx="376.03" cy="121.00" r="1.35" fill="none" stroke="#000000" stroke-width="0.7"/><text x="378.33" y="134.60" font-size="13.90" text-anchor="start" fill="#000000" stroke="#000000" stroke-width="0.15" >N</text><text x="373.53" y="267.00" font-size="13.90" text-anchor="end" fill="#000000" stroke="#000000" stroke-width="0.15" >37</text><circle cx="376.03" cy="253.40" r="1.35" fill="none" stroke="#000000" stroke-width="0.7"/><text x="378.33" y="267.00" font-size="13.90" text-anchor="start" fill="#000000" stroke="#000000" stroke-width="0.15" >N</text><text x="465.28" y="134.60" font-size="13.90" text-anchor="end" fill="#000000" stroke="#000000" stroke-width="0.15" >38</text><circle cx="467.78" cy="121.00" r="1.35" fill="none" stroke="#000000" stroke-width="0.7"/><text x="470.08" y="134.60" font-size="13.90" text-anchor="start" fill="#000000" stroke="#000000" stroke-width="0.15" >N</text><text x="465.28" y="267.00" font-size="13.90" text-anchor="end" fill="#000000" stroke="#000000" stroke-width="0.15" >38</text><circle cx="467.78" cy="253.40" r="1.35" fill="none" stroke="#000000" stroke-width="0.7"/><text x="470.08" y="267.00" font-size="13.90" text-anchor="start" fill="#000000" stroke="#000000" stroke-width="0.15" >N</text><text x="557.03" y="134.60" font-size="13.90" text-anchor="end" fill="#000000" stroke="#000000" stroke-width="0.15" >39</text><circle cx="559.53" cy="121.00" r="1.35" fill="none" stroke="#000000" stroke-width="0.7"/><text x="561.83" y="134.60" font-size="13.90" text-anchor="start" fill="#000000" stroke="#000000" stroke-width="0.15" >N</text><text x="557.03" y="267.00" font-size="13.90" text-anchor="end" fill="#000000" stroke="#000000" stroke-width="0.15" >39</text><circle cx="559.53" cy="253.40" r="1.35" fill="none" stroke="#000000" stroke-width="0.7"/><text x="561.83" y="267.00" font-size="13.90" text-anchor="start" fill="#000000" stroke="#000000" stroke-width="0.15" >N</text><text x="419.20" y="284.40" font-size="13.90" text-anchor="middle" fill="#000000" stroke="#000000" stroke-width="0.15" >Latitude</text><text x="607.80" y="148.40" font-size="13.90" text-anchor="start" fill="#000000" stroke="#000000" stroke-width="0.15" >1</text><text x="607.80" y="196.40" font-size="13.90" text-anchor="start" fill="#000000" stroke="#000000" stroke-width="0.15" >0</text><text x="607.80" y="244.40" font-size="13.90" text-anchor="start" fill="#000000" stroke="#000000" stroke-width="0.15" ><tspan dy="1">-</tspan><tspan dy="-1">1</tspan></text><text x="0.00" y="0.00" font-size="12.60" text-anchor="middle" fill="#000000" stroke="#000000" stroke-width="0.15" transform="translate(636.2 190.80) rotate(-90)">TECP (TECU)</text><rect x="640.30" y="28.30" width="5.60" height="79.10" fill="url(#cb123)" stroke="#262626" stroke-width="0.6"/><text x="651.30" y="33.10" font-size="13.90" text-anchor="start" fill="#000000" stroke="#000000" stroke-width="0.15" >8</text><text x="651.30" y="72.20" font-size="13.90" text-anchor="start" fill="#000000" stroke="#000000" stroke-width="0.15" >4</text><text x="651.30" y="111.00" font-size="13.90" text-anchor="start" fill="#000000" stroke="#000000" stroke-width="0.15" >0</text><path d="M645.9 67.60h-1.6" stroke="#262626" stroke-width="0.7"/><text x="0" y="0" font-size="13.90" text-anchor="middle" fill="#000000" stroke="#000000" stroke-width="0.15" transform="translate(680.00 67.20) rotate(-90)"><tspan>10</tspan><tspan dy="-4.6" font-size="10.01">11</tspan><tspan dy="4.6">m</tspan><tspan dy="-4.6" font-size="10.01">-3</tspan></text><rect x="640.30" y="160.20" width="5.50" height="79.30" fill="url(#cb124)" stroke="#262626" stroke-width="0.6"/><text x="650.60" y="165.10" font-size="13.90" text-anchor="start" fill="#000000" stroke="#000000" stroke-width="0.15" >3</text><text x="650.60" y="204.80" font-size="13.90" text-anchor="start" fill="#000000" stroke="#000000" stroke-width="0.15" >0</text><text x="650.60" y="243.40" font-size="13.90" text-anchor="start" fill="#000000" stroke="#000000" stroke-width="0.15" ><tspan dy="1">-</tspan><tspan dy="-1">3</tspan></text><path d="M645.8 199.90h-1.6" stroke="#262626" stroke-width="0.7"/><text x="0" y="0" font-size="13.90" text-anchor="middle" fill="#000000" stroke="#000000" stroke-width="0.15" transform="translate(683.00 200.00) rotate(-90)"><tspan>10</tspan><tspan dy="-4.6" font-size="10.01">10</tspan><tspan dy="4.6">m</tspan><tspan dy="-4.6" font-size="10.01">-3</tspan></text><g clip-path="url(#clip125)"><rect x="35.50" y="11.50" width="146.70" height="179.90" fill="#f4f3ff"/><g><rect x="138.78" y="46.95" width="4.61" height="5.30" fill="#fffbfb"/><rect x="143.39" y="46.95" width="4.61" height="5.30" fill="#fcfcff"/><rect x="148.01" y="46.95" width="4.61" height="5.30" fill="#ddddff"/><rect x="152.62" y="46.95" width="4.61" height="5.30" fill="#fff6f6"/><rect x="157.23" y="46.95" width="4.61" height="5.30" fill="#fffbfb"/><rect x="138.78" y="52.25" width="4.61" height="5.30" fill="#f2f2ff"/><rect x="143.39" y="52.25" width="4.61" height="5.30" fill="#ffeaea"/><rect x="148.01" y="52.25" width="4.61" height="5.30" fill="#ffeeee"/><rect x="152.62" y="52.25" width="4.61" height="5.30" fill="#ffb2b2"/><rect x="157.23" y="52.25" width="4.61" height="5.30" fill="#ffeeee"/><rect x="129.56" y="57.55" width="4.61" height="5.30" fill="#fcfcff"/><rect x="134.17" y="57.55" width="4.61" height="5.30" fill="#fcfcff"/><rect x="138.78" y="57.55" width="4.61" height="5.30" fill="#fcfcff"/><rect x="143.39" y="57.55" width="4.61" height="5.30" fill="#eeeeff"/><rect x="148.01" y="57.55" width="4.61" height="5.30" fill="#eeeeff"/><rect x="152.62" y="57.55" width="4.61" height="5.30" fill="#eeeeff"/><rect x="157.23" y="57.55" width="4.61" height="5.30" fill="#eeeeff"/><rect x="134.17" y="62.85" width="4.61" height="5.30" fill="#f6f6ff"/><rect x="138.78" y="62.85" width="4.61" height="5.30" fill="#fcfcff"/><rect x="143.39" y="62.85" width="4.61" height="5.30" fill="#8080ff"/><rect x="148.01" y="62.85" width="4.61" height="5.30" fill="#fcfcff"/><rect x="134.17" y="68.15" width="4.61" height="5.30" fill="#fcfcff"/><rect x="138.78" y="68.15" width="4.61" height="5.30" fill="#ffb2b2"/><rect x="120.33" y="73.45" width="4.61" height="5.30" fill="#fcfcff"/><rect x="124.94" y="73.45" width="4.61" height="5.30" fill="#e6e6ff"/><rect x="129.56" y="73.45" width="4.61" height="5.30" fill="#d4d4ff"/><rect x="134.17" y="73.45" width="4.61" height="5.30" fill="#ffa2a2"/><rect x="138.78" y="73.45" width="4.61" height="5.30" fill="#ffdddd"/><rect x="143.39" y="73.45" width="4.61" height="5.30" fill="#eeeeff"/><rect x="148.01" y="73.45" width="4.61" height="5.30" fill="#eaeaff"/><rect x="111.11" y="78.75" width="4.61" height="5.30" fill="#fcfcff"/><rect x="115.72" y="78.75" width="4.61" height="5.30" fill="#fbfbff"/><rect x="120.33" y="78.75" width="4.61" height="5.30" fill="#f6f6ff"/><rect x="111.11" y="84.05" width="4.61" height="5.30" fill="#f2f2ff"/><rect x="115.72" y="84.05" width="4.61" height="5.30" fill="#e6e6ff"/><rect x="120.33" y="84.05" width="4.61" height="5.30" fill="#fff2f2"/><rect x="124.94" y="84.05" width="4.61" height="5.30" fill="#6e6eff"/><rect x="129.56" y="84.05" width="4.61" height="5.30" fill="#fff6f6"/><rect x="134.17" y="84.05" width="4.61" height="5.30" fill="#fcfcff"/><rect x="106.49" y="89.35" width="4.61" height="5.30" fill="#eaeaff"/><rect x="111.11" y="89.35" width="4.61" height="5.30" fill="#fbfbff"/><rect x="115.72" y="89.35" width="4.61" height="5.30" fill="#ffeaea"/><rect x="120.33" y="89.35" width="4.61" height="5.30" fill="#ffc4c4"/><rect x="124.94" y="89.35" width="4.61" height="5.30" fill="#eaeaff"/><rect x="106.49" y="94.65" width="4.61" height="5.30" fill="#e6e6ff"/><rect x="111.11" y="94.65" width="4.61" height="5.30" fill="#ddddff"/><rect x="115.72" y="94.65" width="4.61" height="5.30" fill="#ff9999"/><rect x="120.33" y="94.65" width="4.61" height="5.30" fill="#ffdddd"/><rect x="124.94" y="94.65" width="4.61" height="5.30" fill="#eeeeff"/><rect x="101.88" y="99.95" width="4.61" height="5.30" fill="#fff6f6"/><rect x="106.49" y="99.95" width="4.61" height="5.30" fill="#fff2f2"/><rect x="111.11" y="99.95" width="4.61" height="5.30" fill="#fcfcff"/><rect x="115.72" y="99.95" width="4.61" height="5.30" fill="#fcfcff"/><rect x="120.33" y="99.95" width="4.61" height="5.30" fill="#f6f6ff"/><rect x="92.66" y="105.25" width="4.61" height="5.26" fill="#f6f6ff"/><rect x="97.27" y="105.25" width="4.61" height="5.26" fill="#f2f2ff"/><rect x="101.88" y="105.25" width="4.61" height="5.26" fill="#eeeeff"/><rect x="106.49" y="105.25" width="4.61" height="5.26" fill="#ff8888"/><rect x="111.11" y="105.25" width="4.61" height="5.26" fill="#e1e1ff"/><rect x="88.04" y="110.51" width="4.61" height="5.22" fill="#fff6f6"/><rect x="92.66" y="110.51" width="4.61" height="5.22" fill="#fcfcff"/><rect x="97.27" y="110.51" width="4.61" height="5.22" fill="#fbfbff"/><rect x="101.88" y="110.51" width="4.61" height="5.22" fill="#9090ff"/><rect x="106.49" y="110.51" width="4.61" height="5.22" fill="#f6f6ff"/><rect x="88.04" y="115.73" width="4.61" height="5.22" fill="#f6f6ff"/><rect x="92.66" y="115.73" width="4.61" height="5.22" fill="#f6f6ff"/><rect x="97.27" y="115.73" width="4.61" height="5.22" fill="#8888ff"/><rect x="101.88" y="115.73" width="4.61" height="5.22" fill="#d9d9ff"/><rect x="106.49" y="115.73" width="4.61" height="5.22" fill="#fff6f6"/><rect x="78.82" y="120.94" width="4.61" height="5.22" fill="#fcfcff"/><rect x="83.43" y="120.94" width="4.61" height="5.22" fill="#fcfcff"/><rect x="88.04" y="120.94" width="4.61" height="5.22" fill="#e6e6ff"/><rect x="92.66" y="120.94" width="4.61" height="5.22" fill="#eeeeff"/><rect x="97.27" y="120.94" width="4.61" height="5.22" fill="#f6f6ff"/><rect x="101.88" y="120.94" width="4.61" height="5.22" fill="#f6f6ff"/><rect x="78.82" y="126.16" width="4.61" height="5.22" fill="#fcfcff"/><rect x="83.43" y="126.16" width="4.61" height="5.22" fill="#fcfcff"/><rect x="88.04" y="126.16" width="4.61" height="5.22" fill="#9090ff"/><rect x="92.66" y="126.16" width="4.61" height="5.22" fill="#ffeaea"/><rect x="97.27" y="126.16" width="4.61" height="5.22" fill="#fff6f6"/><rect x="74.21" y="131.38" width="4.61" height="5.22" fill="#f6f6ff"/><rect x="78.82" y="131.38" width="4.61" height="5.22" fill="#ffe6e6"/><rect x="83.43" y="131.38" width="4.61" height="5.22" fill="#ffd4d4"/><rect x="88.04" y="131.38" width="4.61" height="5.22" fill="#fcfcff"/><rect x="92.66" y="131.38" width="4.61" height="5.22" fill="#fcfcff"/><rect x="78.82" y="136.59" width="4.61" height="5.22" fill="#ffe6e6"/><rect x="83.43" y="136.59" width="4.61" height="5.22" fill="#fcfcff"/></g><g transform="translate(0 0.00)"><path d="M35.30 133.70 L36.20 133.70 L37.30 134.30 L39.70 136.10 L41.40 137.80 L43.20 139.60 L46.10 139.60 L49.00 139.00 L52.50 136.70 L54.80 134.30 L54.20 129.70 L56.60 125.00 L60.90 120.80 L65.40 116.30 L67.60 111.80 L67.60 107.30 L66.50 102.80 L68.70 99.50 L73.20 97.80 L76.00 97.20 L78.30 98.40 L76.60 101.70 L73.80 104.00 L71.00 105.10 L72.10 108.50 L72.10 111.80 L74.30 113.50 L78.30 113.00 L79.40 110.20 L82.20 108.50 L89.00 106.20 L95.70 104.00 L100.20 99.50 L103.60 95.00 L105.80 90.50 L110.00 88.80 L112.00 87.10 L114.30 86.10 L116.90 81.90 L118.00 76.50 L120.70 72.30 L122.50 70.00 L123.90 66.40 L126.00 61.10 L127.60 56.80 L128.10 51.50 L127.00 48.30 L124.90 46.70 L122.30 46.20 L121.70 44.00 L126.00 43.00 L127.00 39.80 L127.00 34.40 L126.00 32.30 L124.40 31.20 L126.00 29.10 L128.60 27.00 L131.80 24.90 L132.40 21.70 L132.90 18.50 L134.50 17.40 L137.70 17.40 L138.20 19.50 L139.30 24.90 L142.00 26.50 L144.10 22.70 L146.80 23.80 L148.90 24.90 L150.00 20.60 L150.50 17.40 L148.40 16.90 L145.20 18.50 L142.50 19.00 L142.00 15.30 L143.00 13.10 L145.00 12.20 L147.30 13.10 L150.00 13.30 L152.10 13.10 L153.70 13.70 L152.60 17.40 L152.60 24.90 L153.20 30.20 L156.90 33.40 L160.10 37.60 L162.20 43.00 L163.30 48.30 L164.90 53.60 L163.80 56.80 L162.20 61.10 L159.00 65.30 L156.90 68.00 L155.30 71.20 L154.20 74.40 L153.70 77.60 L155.30 80.80 L152.50 80.00 L150.00 78.50 L147.30 78.70 L145.20 81.90 L144.10 87.20 L144.60 91.40 L146.20 95.70 L146.20 102.10 L145.20 108.50 L142.00 110.60 L139.80 114.90 L138.20 120.20 L137.20 123.40 L137.40 125.00 L139.10 129.70 L140.90 133.20 L143.20 135.50 L140.90 134.90 L138.00 136.10 L135.10 139.60 L134.50 144.80 L132.10 146.60 L129.20 147.70 L126.30 150.10 L124.00 151.20 L123.40 148.90 L124.60 146.00 L125.70 143.10 L128.60 138.40 L127.50 136.10 L124.60 137.20 L121.70 141.30 L121.10 144.80 L120.50 146.60 L119.90 143.60 L118.20 143.10 L114.70 143.10 L111.70 144.80 L110.80 148.30 L110.10 151.50 L109.60 155.30 L107.20 158.80 L104.90 156.50 L104.90 151.80 L106.10 148.30 L103.70 147.10 L100.30 147.70 L96.80 150.60 L94.40 155.30 L93.80 158.20 L87.40 157.00 L79.30 156.50 L77.00 157.00 L72.90 157.60 L75.80 156.50 L78.10 155.30 L74.60 153.50 L71.70 154.10 L70.00 153.00 L70.00 148.30 L67.00 148.90 L64.70 151.20 L63.50 155.90 L65.30 158.80 L68.20 160.00 L70.00 161.10 L69.40 163.50 L67.60 164.60 L64.10 165.20 L60.60 167.00 L58.30 170.40 L55.40 173.90 L52.50 178.60 L49.60 182.10 L46.70 180.90 L43.20 178.60 L39.70 175.10 L37.30 171.60 L36.20 170.40 L36.70 165.80 L38.50 162.30 L42.00 161.10 L43.70 157.60 L41.40 155.90 L37.30 156.50 L35.30 157.50 M99.60 79.80 L101.20 82.50 L100.80 84.90 L99.00 87.00 L98.00 88.80 L95.80 91.20 L94.60 91.60 L95.10 89.00 L96.80 87.20 L98.50 85.50 L97.40 82.60 L98.30 80.80 L99.60 79.80 M123.50 11.30 L125.00 13.50 L128.00 14.00 L131.00 13.50 L133.00 11.30 M114.90 155.30 a0.90 0.90 0 1 0 1.80 0 a0.90 0.90 0 1 0 -1.80 0 M113.60 160.00 a0.50 0.50 0 1 0 1.00 0 a0.50 0.50 0 1 0 -1.00 0 M112.80 162.00 a0.50 0.50 0 1 0 1.00 0 a0.50 0.50 0 1 0 -1.00 0 M112.20 163.80 a0.50 0.50 0 1 0 1.00 0 a0.50 0.50 0 1 0 -1.00 0 M111.20 166.40 a0.50 0.50 0 1 0 1.00 0 a0.50 0.50 0 1 0 -1.00 0 M117.50 168.70 a0.70 0.70 0 1 0 1.40 0 a0.70 0.70 0 1 0 -1.40 0 M119.40 173.40 a0.50 0.50 0 1 0 1.00 0 a0.50 0.50 0 1 0 -1.00 0 M122.00 188.50 a0.80 0.80 0 1 0 1.60 0 a0.80 0.80 0 1 0 -1.60 0 M113.30 77.60 a0.40 0.40 0 1 0 0.80 0 a0.40 0.40 0 1 0 -0.80 0 M70.10 90.50 a0.30 0.30 0 1 0 0.60 0 a0.30 0.30 0 1 0 -0.60 0 M70.10 95.50 a0.30 0.30 0 1 0 0.60 0 a0.30 0.30 0 1 0 -0.60 0" fill="none" stroke="#9a9a9a" stroke-width="0.5" stroke-linejoin="round"/></g></g><rect x="35.50" y="11.50" width="146.70" height="179.90" fill="none" stroke="#262626" stroke-width="0.80"/><path d="M53.45 191.40v-2.50M53.45 11.50v2.50M108.80 191.40v-2.50M108.80 11.50v2.50M164.15 191.40v-2.50M164.15 11.50v2.50M35.50 44.30h2.50M182.20 44.30h-2.50M35.50 107.90h2.50M182.20 107.90h-2.50M35.50 170.50h2.50M182.20 170.50h-2.50" stroke="#262626" stroke-width="0.8" fill="none"/><text x="31.20" y="49.10" font-size="13.90" text-anchor="end" fill="#000000" stroke="#000000" stroke-width="0.15" >40°N</text><text x="31.20" y="112.70" font-size="13.90" text-anchor="end" fill="#000000" stroke="#000000" stroke-width="0.15" >37°N</text><text x="31.20" y="175.30" font-size="13.90" text-anchor="end" fill="#000000" stroke="#000000" stroke-width="0.15" >34°N</text><text x="53.85" y="203.60" font-size="13.90" text-anchor="middle" fill="#000000" stroke="#000000" stroke-width="0.15" >136°E</text><text x="109.00" y="203.60" font-size="13.90" text-anchor="middle" fill="#000000" stroke="#000000" stroke-width="0.15" >139°E</text><text x="163.90" y="203.60" font-size="13.90" text-anchor="middle" fill="#000000" stroke="#000000" stroke-width="0.15" >142°E</text><text x="44.90" y="38.30" font-size="13.90" text-anchor="start" fill="#000000" stroke="#000000" stroke-width="0.15" >(c) Output</text><text x="44.90" y="60.20" font-size="13.90" text-anchor="start" fill="#000000" stroke="#000000" stroke-width="0.15" >300 km</text><rect x="116.00" y="211.30" width="55.90" height="5.30" fill="url(#cb126)" stroke="#262626" stroke-width="0.6"/><path d="M144.2 216.60v-1.6" stroke="#262626" stroke-width="0.7"/><text x="116.50" y="233.00" font-size="13.90" text-anchor="middle" fill="#000000" stroke="#000000" stroke-width="0.15" ><tspan dy="1">-</tspan><tspan dy="-1">3</tspan></text><text x="144.00" y="233.00" font-size="13.90" text-anchor="middle" fill="#000000" stroke="#000000" stroke-width="0.15" >0</text><text x="171.80" y="233.00" font-size="13.90" text-anchor="middle" fill="#000000" stroke="#000000" stroke-width="0.15" >3</text><text x="144.20" y="252.10" font-size="13.90" text-anchor="middle" fill="#000000" stroke="#000000" stroke-width="0.15"><tspan>10</tspan><tspan dy="-4.6" font-size="10.01">10</tspan><tspan dy="4.6">m</tspan><tspan dy="-4.6" font-size="10.01">-3</tspan></text><g><rect x="235.70" y="296.200" width="367.00" height="0.820" fill="url(#r127)"/><rect x="235.70" y="297.000" width="367.00" height="1.020" fill="url(#r128)"/><rect x="235.70" y="298.000" width="367.00" height="1.020" fill="url(#r129)"/><rect x="235.70" y="299.000" width="367.00" height="1.020" fill="url(#r130)"/><rect x="235.70" y="300.000" width="367.00" height="1.020" fill="url(#r131)"/><rect x="235.70" y="301.000" width="367.00" height="1.020" fill="url(#r132)"/><rect x="235.70" y="302.000" width="367.00" height="1.020" fill="url(#r133)"/><rect x="235.70" y="303.000" width="367.00" height="1.020" fill="url(#r134)"/><rect x="235.70" y="304.000" width="367.00" height="1.020" fill="url(#r135)"/><rect x="235.70" y="305.000" width="367.00" height="1.020" fill="url(#r136)"/><rect x="235.70" y="306.000" width="367.00" height="1.020" fill="url(#r137)"/><rect x="235.70" y="307.000" width="367.00" height="1.020" fill="url(#r138)"/><rect x="235.70" y="308.000" width="367.00" height="1.020" fill="url(#r139)"/><rect x="235.70" y="309.000" width="367.00" height="1.020" fill="url(#r140)"/><rect x="235.70" y="310.000" width="367.00" height="1.020" fill="url(#r141)"/><rect x="235.70" y="311.000" width="367.00" height="1.020" fill="url(#r142)"/><rect x="235.70" y="312.000" width="367.00" height="1.020" fill="url(#r143)"/><rect x="235.70" y="313.000" width="367.00" height="1.020" fill="url(#r144)"/><rect x="235.70" y="314.000" width="367.00" height="1.020" fill="url(#r145)"/><rect x="235.70" y="315.000" width="367.00" height="1.020" fill="url(#r146)"/><rect x="235.70" y="316.000" width="367.00" height="1.020" fill="url(#r147)"/><rect x="235.70" y="317.000" width="367.00" height="1.020" fill="url(#r148)"/><rect x="235.70" y="318.000" width="367.00" height="1.020" fill="url(#r149)"/><rect x="235.70" y="319.000" width="367.00" height="1.020" fill="url(#r150)"/><rect x="235.70" y="320.000" width="367.00" height="1.020" fill="url(#r151)"/><rect x="235.70" y="321.000" width="367.00" height="1.020" fill="url(#r152)"/><rect x="235.70" y="322.000" width="367.00" height="1.020" fill="url(#r153)"/><rect x="235.70" y="323.000" width="367.00" height="1.020" fill="url(#r154)"/><rect x="235.70" y="324.000" width="367.00" height="1.020" fill="url(#r155)"/><rect x="235.70" y="325.000" width="367.00" height="1.020" fill="url(#r156)"/><rect x="235.70" y="326.000" width="367.00" height="1.020" fill="url(#r157)"/><rect x="235.70" y="327.000" width="367.00" height="1.020" fill="url(#r158)"/><rect x="235.70" y="328.000" width="367.00" height="1.020" fill="url(#r159)"/><rect x="235.70" y="329.000" width="367.00" height="1.020" fill="url(#r160)"/><rect x="235.70" y="330.000" width="367.00" height="1.020" fill="url(#r161)"/><rect x="235.70" y="331.000" width="367.00" height="1.020" fill="url(#r162)"/><rect x="235.70" y="332.000" width="367.00" height="1.020" fill="url(#r163)"/><rect x="235.70" y="333.000" width="367.00" height="1.020" fill="url(#r164)"/><rect x="235.70" y="334.000" width="367.00" height="1.020" fill="url(#r165)"/><rect x="235.70" y="335.000" width="367.00" height="1.020" fill="url(#r166)"/><rect x="235.70" y="336.000" width="367.00" height="1.020" fill="url(#r167)"/><rect x="235.70" y="337.000" width="367.00" height="1.020" fill="url(#r168)"/><rect x="235.70" y="338.000" width="367.00" height="1.020" fill="url(#r169)"/><rect x="235.70" y="339.000" width="367.00" height="1.020" fill="url(#r170)"/><rect x="235.70" y="340.000" width="367.00" height="1.020" fill="url(#r171)"/><rect x="235.70" y="341.000" width="367.00" height="1.020" fill="url(#r172)"/><rect x="235.70" y="342.000" width="367.00" height="1.020" fill="url(#r173)"/><rect x="235.70" y="343.000" width="367.00" height="1.020" fill="url(#r174)"/><rect x="235.70" y="344.000" width="367.00" height="1.020" fill="url(#r175)"/><rect x="235.70" y="345.000" width="367.00" height="1.020" fill="url(#r176)"/><rect x="235.70" y="346.000" width="367.00" height="1.020" fill="url(#r177)"/><rect x="235.70" y="347.000" width="367.00" height="1.020" fill="url(#r178)"/><rect x="235.70" y="348.000" width="367.00" height="1.020" fill="url(#r179)"/><rect x="235.70" y="349.000" width="367.00" height="1.020" fill="url(#r180)"/><rect x="235.70" y="350.000" width="367.00" height="1.020" fill="url(#r181)"/><rect x="235.70" y="351.000" width="367.00" height="1.020" fill="url(#r182)"/><rect x="235.70" y="352.000" width="367.00" height="1.020" fill="url(#r183)"/><rect x="235.70" y="353.000" width="367.00" height="1.020" fill="url(#r184)"/><rect x="235.70" y="354.000" width="367.00" height="1.020" fill="url(#r185)"/><rect x="235.70" y="355.000" width="367.00" height="1.020" fill="url(#r186)"/><rect x="235.70" y="356.000" width="367.00" height="1.020" fill="url(#r187)"/><rect x="235.70" y="357.000" width="367.00" height="1.020" fill="url(#r188)"/><rect x="235.70" y="358.000" width="367.00" height="1.020" fill="url(#r189)"/><rect x="235.70" y="359.000" width="367.00" height="1.020" fill="url(#r190)"/><rect x="235.70" y="360.000" width="367.00" height="1.020" fill="url(#r191)"/><rect x="235.70" y="361.000" width="367.00" height="1.020" fill="url(#r192)"/><rect x="235.70" y="362.000" width="367.00" height="1.020" fill="url(#r193)"/><rect x="235.70" y="363.000" width="367.00" height="1.020" fill="url(#r194)"/><rect x="235.70" y="364.000" width="367.00" height="1.020" fill="url(#r195)"/><rect x="235.70" y="365.000" width="367.00" height="1.020" fill="url(#r196)"/><rect x="235.70" y="366.000" width="367.00" height="1.020" fill="url(#r197)"/><rect x="235.70" y="367.000" width="367.00" height="1.020" fill="url(#r198)"/><rect x="235.70" y="368.000" width="367.00" height="1.020" fill="url(#r199)"/><rect x="235.70" y="369.000" width="367.00" height="1.020" fill="url(#r200)"/><rect x="235.70" y="370.000" width="367.00" height="1.020" fill="url(#r201)"/><rect x="235.70" y="371.000" width="367.00" height="1.020" fill="url(#r202)"/><rect x="235.70" y="372.000" width="367.00" height="1.020" fill="url(#r203)"/><rect x="235.70" y="373.000" width="367.00" height="1.020" fill="url(#r204)"/><rect x="235.70" y="374.000" width="367.00" height="1.020" fill="url(#r205)"/><rect x="235.70" y="375.000" width="367.00" height="1.020" fill="url(#r206)"/><rect x="235.70" y="376.000" width="367.00" height="1.020" fill="url(#r207)"/><rect x="235.70" y="377.000" width="367.00" height="1.020" fill="url(#r208)"/><rect x="235.70" y="378.000" width="367.00" height="1.020" fill="url(#r209)"/><rect x="235.70" y="379.000" width="367.00" height="1.020" fill="url(#r210)"/><rect x="235.70" y="380.000" width="367.00" height="1.020" fill="url(#r211)"/><rect x="235.70" y="381.000" width="367.00" height="1.020" fill="url(#r212)"/><rect x="235.70" y="382.000" width="367.00" height="1.020" fill="url(#r213)"/><rect x="235.70" y="383.000" width="367.00" height="1.020" fill="url(#r214)"/><rect x="235.70" y="384.000" width="367.00" height="1.020" fill="url(#r215)"/><rect x="235.70" y="385.000" width="367.00" height="1.020" fill="url(#r216)"/><rect x="235.70" y="386.000" width="367.00" height="1.020" fill="url(#r217)"/><rect x="235.70" y="387.000" width="367.00" height="1.020" fill="url(#r218)"/><rect x="235.70" y="388.000" width="367.00" height="1.020" fill="url(#r219)"/><rect x="235.70" y="389.000" width="367.00" height="1.020" fill="url(#r220)"/><rect x="235.70" y="390.000" width="367.00" height="1.020" fill="url(#r221)"/><rect x="235.70" y="391.000" width="367.00" height="1.020" fill="url(#r222)"/><rect x="235.70" y="392.000" width="367.00" height="1.020" fill="url(#r223)"/><rect x="235.70" y="393.000" width="367.00" height="1.020" fill="url(#r224)"/><rect x="235.70" y="394.000" width="367.00" height="1.020" fill="url(#r225)"/><rect x="235.70" y="395.000" width="367.00" height="1.020" fill="url(#r226)"/><rect x="235.70" y="396.000" width="367.00" height="1.020" fill="url(#r227)"/><rect x="235.70" y="397.000" width="367.00" height="1.020" fill="url(#r228)"/><rect x="235.70" y="398.000" width="367.00" height="1.020" fill="url(#r229)"/><rect x="235.70" y="399.000" width="367.00" height="1.020" fill="url(#r230)"/><rect x="235.70" y="400.000" width="367.00" height="1.020" fill="url(#r231)"/><rect x="235.70" y="401.000" width="367.00" height="0.420" fill="url(#r232)"/></g><rect x="235.70" y="296.20" width="367.00" height="106.10" fill="none" stroke="#262626" stroke-width="0.80"/><path d="M281.57 402.30v-4.00M281.57 296.20v4.00M373.33 402.30v-4.00M373.33 296.20v4.00M465.08 402.30v-4.00M465.08 296.20v4.00M556.83 402.30v-4.00M556.83 296.20v4.00M235.70 381.08h4.00M602.70 381.08h-4.00M235.70 338.64h4.00M602.70 338.64h-4.00M235.70 296.20h4.00M602.70 296.20h-4.00" stroke="#262626" stroke-width="0.8" fill="none"/><text x="230.50" y="385.88" font-size="13.90" text-anchor="end" fill="#000000" stroke="#000000" stroke-width="0.15" >200</text><text x="230.50" y="343.44" font-size="13.90" text-anchor="end" fill="#000000" stroke="#000000" stroke-width="0.15" >400</text><text x="230.50" y="301.00" font-size="13.90" text-anchor="end" fill="#000000" stroke="#000000" stroke-width="0.15" >600</text><text x="0.00" y="0.00" font-size="13.90" text-anchor="middle" fill="#000000" stroke="#000000" stroke-width="0.15" transform="translate(200.6 349.25) rotate(-90)">Height (km)</text><text x="245.50" y="311.90" font-size="13.90" text-anchor="start" fill="#ffffff" stroke="#ffffff" stroke-width="0.15" >(d) Background (hmF2+100 km)</text><rect x="235.70" y="428.50" width="22.99" height="105.40" fill="url(#c233)"/><rect x="258.64" y="428.50" width="22.99" height="105.40" fill="url(#c234)"/><rect x="281.57" y="428.50" width="22.99" height="105.40" fill="url(#c235)"/><rect x="304.51" y="428.50" width="22.99" height="105.40" fill="url(#c236)"/><rect x="327.45" y="428.50" width="22.99" height="105.40" fill="url(#c237)"/><rect x="350.39" y="428.50" width="22.99" height="105.40" fill="url(#c238)"/><rect x="373.33" y="428.50" width="22.99" height="105.40" fill="url(#c239)"/><rect x="396.26" y="428.50" width="22.99" height="105.40" fill="url(#c240)"/><rect x="419.20" y="428.50" width="22.99" height="105.40" fill="url(#c241)"/><rect x="442.14" y="428.50" width="22.99" height="105.40" fill="url(#c242)"/><rect x="465.08" y="428.50" width="22.99" height="105.40" fill="url(#c243)"/><rect x="488.01" y="428.50" width="22.99" height="105.40" fill="url(#c244)"/><rect x="510.95" y="428.50" width="22.99" height="105.40" fill="url(#c245)"/><rect x="533.89" y="428.50" width="22.99" height="105.40" fill="url(#c246)"/><rect x="556.83" y="428.50" width="22.99" height="105.40" fill="url(#c247)"/><rect x="579.76" y="428.50" width="22.99" height="105.40" fill="url(#c248)"/><polyline points="247.17,476.80 270.11,471.20 293.04,483.80 315.98,482.00 338.92,488.50 361.86,492.20 384.79,472.70 407.73,481.00 430.67,473.00 453.61,466.10 476.54,487.20 499.48,484.80 522.42,476.80 545.36,468.00 568.29,483.80 591.23,482.00" fill="none" stroke="#000000" stroke-width="1.55" stroke-dasharray="7.2 7"/><polyline points="247.17,479.20 270.11,472.70 293.04,481.00 315.98,462.40 338.92,478.20 361.86,473.60 384.79,478.20 407.73,471.70 430.67,483.80 453.61,476.80 476.54,481.00 499.48,511.70 522.42,482.90 545.36,474.50 568.29,482.00 591.23,469.90" fill="none" stroke="#ffffff" stroke-width="1.55" stroke-dasharray="7.2 7"/><rect x="235.70" y="428.50" width="367.00" height="105.90" fill="none" stroke="#262626" stroke-width="0.80"/><path d="M281.57 534.40v-4.00M281.57 428.50v4.00M373.33 534.40v-4.00M373.33 428.50v4.00M465.08 534.40v-4.00M465.08 428.50v4.00M556.83 534.40v-4.00M556.83 428.50v4.00M235.70 513.22h4.00M235.70 470.86h4.00M235.70 428.50h4.00M602.70 433.40h-4.00M602.70 481.40h-4.00M602.70 529.40h-4.00" stroke="#262626" stroke-width="0.8" fill="none"/><text x="230.50" y="518.02" font-size="13.90" text-anchor="end" fill="#000000" stroke="#000000" stroke-width="0.15" >200</text><text x="230.50" y="475.66" font-size="13.90" text-anchor="end" fill="#000000" stroke="#000000" stroke-width="0.15" >400</text><text x="230.50" y="433.30" font-size="13.90" text-anchor="end" fill="#000000" stroke="#000000" stroke-width="0.15" >600</text><text x="0.00" y="0.00" font-size="13.90" text-anchor="middle" fill="#000000" stroke="#000000" stroke-width="0.15" transform="translate(200.6 481.45) rotate(-90)">Height (km)</text><text x="245.70" y="443.90" font-size="13.90" text-anchor="start" fill="#000000" stroke="#000000" stroke-width="0.15" >(e) Output</text><text x="281.77" y="424.60" font-size="13.90" text-anchor="end" fill="#000000" stroke="#000000" stroke-width="0.15" >36</text><circle cx="284.27" cy="411.00" r="1.35" fill="none" stroke="#000000" stroke-width="0.7"/><text x="286.57" y="424.60" font-size="13.90" text-anchor="start" fill="#000000" stroke="#000000" stroke-width="0.15" >N</text><text x="281.77" y="557.00" font-size="13.90" text-anchor="end" fill="#000000" stroke="#000000" stroke-width="0.15" >36</text><circle cx="284.27" cy="543.40" r="1.35" fill="none" stroke="#000000" stroke-width="0.7"/><text x="286.57" y="557.00" font-size="13.90" text-anchor="start" fill="#000000" stroke="#000000" stroke-width="0.15" >N</text><text x="373.53" y="424.60" font-size="13.90" text-anchor="end" fill="#000000" stroke="#000000" stroke-width="0.15" >37</text><circle cx="376.03" cy="411.00" r="1.35" fill="none" stroke="#000000" stroke-width="0.7"/><text x="378.33" y="424.60" font-size="13.90" text-anchor="start" fill="#000000" stroke="#000000" stroke-width="0.15" >N</text><text x="373.53" y="557.00" font-size="13.90" text-anchor="end" fill="#000000" stroke="#000000" stroke-width="0.15" >37</text><circle cx="376.03" cy="543.40" r="1.35" fill="none" stroke="#000000" stroke-width="0.7"/><text x="378.33" y="557.00" font-size="13.90" text-anchor="start" fill="#000000" stroke="#000000" stroke-width="0.15" >N</text><text x="465.28" y="424.60" font-size="13.90" text-anchor="end" fill="#000000" stroke="#000000" stroke-width="0.15" >38</text><circle cx="467.78" cy="411.00" r="1.35" fill="none" stroke="#000000" stroke-width="0.7"/><text x="470.08" y="424.60" font-size="13.90" text-anchor="start" fill="#000000" stroke="#000000" stroke-width="0.15" >N</text><text x="465.28" y="557.00" font-size="13.90" text-anchor="end" fill="#000000" stroke="#000000" stroke-width="0.15" >38</text><circle cx="467.78" cy="543.40" r="1.35" fill="none" stroke="#000000" stroke-width="0.7"/><text x="470.08" y="557.00" font-size="13.90" text-anchor="start" fill="#000000" stroke="#000000" stroke-width="0.15" >N</text><text x="557.03" y="424.60" font-size="13.90" text-anchor="end" fill="#000000" stroke="#000000" stroke-width="0.15" >39</text><circle cx="559.53" cy="411.00" r="1.35" fill="none" stroke="#000000" stroke-width="0.7"/><text x="561.83" y="424.60" font-size="13.90" text-anchor="start" fill="#000000" stroke="#000000" stroke-width="0.15" >N</text><text x="557.03" y="557.00" font-size="13.90" text-anchor="end" fill="#000000" stroke="#000000" stroke-width="0.15" >39</text><circle cx="559.53" cy="543.40" r="1.35" fill="none" stroke="#000000" stroke-width="0.7"/><text x="561.83" y="557.00" font-size="13.90" text-anchor="start" fill="#000000" stroke="#000000" stroke-width="0.15" >N</text><text x="419.20" y="574.40" font-size="13.90" text-anchor="middle" fill="#000000" stroke="#000000" stroke-width="0.15" >Latitude</text><text x="607.80" y="438.40" font-size="13.90" text-anchor="start" fill="#000000" stroke="#000000" stroke-width="0.15" >1</text><text x="607.80" y="486.40" font-size="13.90" text-anchor="start" fill="#000000" stroke="#000000" stroke-width="0.15" >0</text><text x="607.80" y="534.40" font-size="13.90" text-anchor="start" fill="#000000" stroke="#000000" stroke-width="0.15" ><tspan dy="1">-</tspan><tspan dy="-1">1</tspan></text><text x="0.00" y="0.00" font-size="12.60" text-anchor="middle" fill="#000000" stroke="#000000" stroke-width="0.15" transform="translate(636.2 480.80) rotate(-90)">TECP (TECU)</text><rect x="640.30" y="318.30" width="5.60" height="79.10" fill="url(#cb249)" stroke="#262626" stroke-width="0.6"/><text x="651.30" y="323.10" font-size="13.90" text-anchor="start" fill="#000000" stroke="#000000" stroke-width="0.15" >8</text><text x="651.30" y="362.20" font-size="13.90" text-anchor="start" fill="#000000" stroke="#000000" stroke-width="0.15" >4</text><text x="651.30" y="401.00" font-size="13.90" text-anchor="start" fill="#000000" stroke="#000000" stroke-width="0.15" >0</text><path d="M645.9 357.60h-1.6" stroke="#262626" stroke-width="0.7"/><text x="0" y="0" font-size="13.90" text-anchor="middle" fill="#000000" stroke="#000000" stroke-width="0.15" transform="translate(680.00 357.20) rotate(-90)"><tspan>10</tspan><tspan dy="-4.6" font-size="10.01">11</tspan><tspan dy="4.6">m</tspan><tspan dy="-4.6" font-size="10.01">-3</tspan></text><rect x="640.30" y="450.20" width="5.50" height="79.30" fill="url(#cb250)" stroke="#262626" stroke-width="0.6"/><text x="650.60" y="455.10" font-size="13.90" text-anchor="start" fill="#000000" stroke="#000000" stroke-width="0.15" >3</text><text x="650.60" y="494.80" font-size="13.90" text-anchor="start" fill="#000000" stroke="#000000" stroke-width="0.15" >0</text><text x="650.60" y="533.40" font-size="13.90" text-anchor="start" fill="#000000" stroke="#000000" stroke-width="0.15" ><tspan dy="1">-</tspan><tspan dy="-1">3</tspan></text><path d="M645.8 489.90h-1.6" stroke="#262626" stroke-width="0.7"/><text x="0" y="0" font-size="13.90" text-anchor="middle" fill="#000000" stroke="#000000" stroke-width="0.15" transform="translate(683.00 490.00) rotate(-90)"><tspan>10</tspan><tspan dy="-4.6" font-size="10.01">10</tspan><tspan dy="4.6">m</tspan><tspan dy="-4.6" font-size="10.01">-3</tspan></text><g clip-path="url(#clip251)"><rect x="35.50" y="301.50" width="146.70" height="179.90" fill="#f4f3ff"/><g><rect x="138.78" y="331.65" width="4.61" height="5.30" fill="#f6f6ff"/><rect x="143.39" y="331.65" width="4.61" height="5.30" fill="#f6f6ff"/><rect x="148.01" y="331.65" width="4.61" height="5.30" fill="#f6f6ff"/><rect x="138.78" y="336.95" width="4.61" height="5.30" fill="#fcfcff"/><rect x="143.39" y="336.95" width="4.61" height="5.30" fill="#fffbfb"/><rect x="148.01" y="336.95" width="4.61" height="5.30" fill="#f6f6ff"/><rect x="152.62" y="336.95" width="4.61" height="5.30" fill="#ffeeee"/><rect x="157.23" y="336.95" width="4.61" height="5.30" fill="#fff2f2"/><rect x="138.78" y="342.25" width="4.61" height="5.30" fill="#f6f6ff"/><rect x="143.39" y="342.25" width="4.61" height="5.30" fill="#ffe1e1"/><rect x="148.01" y="342.25" width="4.61" height="5.30" fill="#ffe1e1"/><rect x="152.62" y="342.25" width="4.61" height="5.30" fill="#ffaaaa"/><rect x="157.23" y="342.25" width="4.61" height="5.30" fill="#ffe1e1"/><rect x="138.78" y="347.55" width="4.61" height="5.30" fill="#eeeeff"/><rect x="143.39" y="347.55" width="4.61" height="5.30" fill="#eaeaff"/><rect x="148.01" y="347.55" width="4.61" height="5.30" fill="#f6f6ff"/><rect x="152.62" y="347.55" width="4.61" height="5.30" fill="#f6f6ff"/><rect x="157.23" y="347.55" width="4.61" height="5.30" fill="#f6f6ff"/><rect x="138.78" y="352.85" width="4.61" height="5.30" fill="#fbfbff"/><rect x="143.39" y="352.85" width="4.61" height="5.30" fill="#6e6eff"/><rect x="148.01" y="352.85" width="4.61" height="5.30" fill="#fff6f6"/><rect x="115.72" y="358.15" width="4.61" height="5.30" fill="#f6f6ff"/><rect x="120.33" y="358.15" width="4.61" height="5.30" fill="#eeeeff"/><rect x="124.94" y="358.15" width="4.61" height="5.30" fill="#f2f2ff"/><rect x="129.56" y="358.15" width="4.61" height="5.30" fill="#eeeeff"/><rect x="134.17" y="358.15" width="4.61" height="5.30" fill="#fff6f6"/><rect x="138.78" y="358.15" width="4.61" height="5.30" fill="#ffb2b2"/><rect x="120.33" y="363.45" width="4.61" height="5.30" fill="#fcfcff"/><rect x="124.94" y="363.45" width="4.61" height="5.30" fill="#e1e1ff"/><rect x="129.56" y="363.45" width="4.61" height="5.30" fill="#ccccff"/><rect x="134.17" y="363.45" width="4.61" height="5.30" fill="#ffb2b2"/><rect x="138.78" y="363.45" width="4.61" height="5.30" fill="#ffe1e1"/><rect x="115.72" y="368.75" width="4.61" height="5.30" fill="#fbfbff"/><rect x="120.33" y="368.75" width="4.61" height="5.30" fill="#f2f2ff"/><rect x="124.94" y="368.75" width="4.61" height="5.30" fill="#eaeaff"/><rect x="129.56" y="368.75" width="4.61" height="5.30" fill="#fcfcff"/><rect x="134.17" y="368.75" width="4.61" height="5.30" fill="#f2f2ff"/><rect x="115.72" y="374.05" width="4.61" height="5.30" fill="#e1e1ff"/><rect x="120.33" y="374.05" width="4.61" height="5.30" fill="#fff2f2"/><rect x="124.94" y="374.05" width="4.61" height="5.30" fill="#5555ff"/><rect x="129.56" y="374.05" width="4.61" height="5.30" fill="#fff6f6"/><rect x="101.88" y="379.35" width="4.61" height="5.30" fill="#e6e6ff"/><rect x="106.49" y="379.35" width="4.61" height="5.30" fill="#eaeaff"/><rect x="111.11" y="379.35" width="4.61" height="5.30" fill="#fff6f6"/><rect x="115.72" y="379.35" width="4.61" height="5.30" fill="#ffd4d4"/><rect x="120.33" y="379.35" width="4.61" height="5.30" fill="#ffcccc"/><rect x="124.94" y="379.35" width="4.61" height="5.30" fill="#f2f2ff"/><rect x="106.49" y="384.65" width="4.61" height="5.30" fill="#d9d9ff"/><rect x="111.11" y="384.65" width="4.61" height="5.30" fill="#d0d0ff"/><rect x="115.72" y="384.65" width="4.61" height="5.30" fill="#ff8888"/><rect x="120.33" y="384.65" width="4.61" height="5.30" fill="#ffeeee"/><rect x="101.88" y="389.95" width="4.61" height="5.30" fill="#ffe1e1"/><rect x="106.49" y="389.95" width="4.61" height="5.30" fill="#ffe1e1"/><rect x="111.11" y="389.95" width="4.61" height="5.30" fill="#fff6f6"/><rect x="115.72" y="389.95" width="4.61" height="5.30" fill="#f6f6ff"/><rect x="97.27" y="395.25" width="4.61" height="5.26" fill="#eeeeff"/><rect x="101.88" y="395.25" width="4.61" height="5.26" fill="#fcfcff"/><rect x="106.49" y="395.25" width="4.61" height="5.26" fill="#ff6e6e"/><rect x="111.11" y="395.25" width="4.61" height="5.26" fill="#eeeeff"/><rect x="115.72" y="395.25" width="4.61" height="5.26" fill="#f2f2ff"/><rect x="88.04" y="400.51" width="4.61" height="5.22" fill="#fff6f6"/><rect x="92.66" y="400.51" width="4.61" height="5.22" fill="#fffbfb"/><rect x="97.27" y="400.51" width="4.61" height="5.22" fill="#fbfbff"/><rect x="101.88" y="400.51" width="4.61" height="5.22" fill="#8080ff"/><rect x="106.49" y="400.51" width="4.61" height="5.22" fill="#fbfbff"/><rect x="83.43" y="405.73" width="4.61" height="5.22" fill="#fcfcff"/><rect x="88.04" y="405.73" width="4.61" height="5.22" fill="#fbfbff"/><rect x="92.66" y="405.73" width="4.61" height="5.22" fill="#fcfcff"/><rect x="97.27" y="405.73" width="4.61" height="5.22" fill="#7777ff"/><rect x="101.88" y="405.73" width="4.61" height="5.22" fill="#e1e1ff"/><rect x="106.49" y="405.73" width="4.61" height="5.22" fill="#fffbfb"/><rect x="88.04" y="410.94" width="4.61" height="5.22" fill="#e1e1ff"/><rect x="92.66" y="410.94" width="4.61" height="5.22" fill="#e6e6ff"/><rect x="97.27" y="410.94" width="4.61" height="5.22" fill="#fcfcff"/><rect x="106.49" y="410.94" width="4.61" height="5.22" fill="#eeeeff"/><rect x="74.21" y="416.16" width="4.61" height="5.22" fill="#fcfcff"/><rect x="78.82" y="416.16" width="4.61" height="5.22" fill="#fffbfb"/><rect x="83.43" y="416.16" width="4.61" height="5.22" fill="#fff6f6"/><rect x="88.04" y="416.16" width="4.61" height="5.22" fill="#7777ff"/><rect x="92.66" y="416.16" width="4.61" height="5.22" fill="#ffeaea"/><rect x="97.27" y="416.16" width="4.61" height="5.22" fill="#fffbfb"/><rect x="74.21" y="421.38" width="4.61" height="5.22" fill="#eeeeff"/><rect x="78.82" y="421.38" width="4.61" height="5.22" fill="#ffd4d4"/><rect x="83.43" y="421.38" width="4.61" height="5.22" fill="#ffcccc"/><rect x="88.04" y="421.38" width="4.61" height="5.22" fill="#fbfbff"/><rect x="92.66" y="421.38" width="4.61" height="5.22" fill="#fbfbff"/><rect x="74.21" y="426.59" width="4.61" height="5.22" fill="#fcfcff"/><rect x="78.82" y="426.59" width="4.61" height="5.22" fill="#ffd9d9"/><rect x="83.43" y="426.59" width="4.61" height="5.22" fill="#fff6f6"/></g><g transform="translate(0 290.00)"><path d="M35.30 133.70 L36.20 133.70 L37.30 134.30 L39.70 136.10 L41.40 137.80 L43.20 139.60 L46.10 139.60 L49.00 139.00 L52.50 136.70 L54.80 134.30 L54.20 129.70 L56.60 125.00 L60.90 120.80 L65.40 116.30 L67.60 111.80 L67.60 107.30 L66.50 102.80 L68.70 99.50 L73.20 97.80 L76.00 97.20 L78.30 98.40 L76.60 101.70 L73.80 104.00 L71.00 105.10 L72.10 108.50 L72.10 111.80 L74.30 113.50 L78.30 113.00 L79.40 110.20 L82.20 108.50 L89.00 106.20 L95.70 104.00 L100.20 99.50 L103.60 95.00 L105.80 90.50 L110.00 88.80 L112.00 87.10 L114.30 86.10 L116.90 81.90 L118.00 76.50 L120.70 72.30 L122.50 70.00 L123.90 66.40 L126.00 61.10 L127.60 56.80 L128.10 51.50 L127.00 48.30 L124.90 46.70 L122.30 46.20 L121.70 44.00 L126.00 43.00 L127.00 39.80 L127.00 34.40 L126.00 32.30 L124.40 31.20 L126.00 29.10 L128.60 27.00 L131.80 24.90 L132.40 21.70 L132.90 18.50 L134.50 17.40 L137.70 17.40 L138.20 19.50 L139.30 24.90 L142.00 26.50 L144.10 22.70 L146.80 23.80 L148.90 24.90 L150.00 20.60 L150.50 17.40 L148.40 16.90 L145.20 18.50 L142.50 19.00 L142.00 15.30 L143.00 13.10 L145.00 12.20 L147.30 13.10 L150.00 13.30 L152.10 13.10 L153.70 13.70 L152.60 17.40 L152.60 24.90 L153.20 30.20 L156.90 33.40 L160.10 37.60 L162.20 43.00 L163.30 48.30 L164.90 53.60 L163.80 56.80 L162.20 61.10 L159.00 65.30 L156.90 68.00 L155.30 71.20 L154.20 74.40 L153.70 77.60 L155.30 80.80 L152.50 80.00 L150.00 78.50 L147.30 78.70 L145.20 81.90 L144.10 87.20 L144.60 91.40 L146.20 95.70 L146.20 102.10 L145.20 108.50 L142.00 110.60 L139.80 114.90 L138.20 120.20 L137.20 123.40 L137.40 125.00 L139.10 129.70 L140.90 133.20 L143.20 135.50 L140.90 134.90 L138.00 136.10 L135.10 139.60 L134.50 144.80 L132.10 146.60 L129.20 147.70 L126.30 150.10 L124.00 151.20 L123.40 148.90 L124.60 146.00 L125.70 143.10 L128.60 138.40 L127.50 136.10 L124.60 137.20 L121.70 141.30 L121.10 144.80 L120.50 146.60 L119.90 143.60 L118.20 143.10 L114.70 143.10 L111.70 144.80 L110.80 148.30 L110.10 151.50 L109.60 155.30 L107.20 158.80 L104.90 156.50 L104.90 151.80 L106.10 148.30 L103.70 147.10 L100.30 147.70 L96.80 150.60 L94.40 155.30 L93.80 158.20 L87.40 157.00 L79.30 156.50 L77.00 157.00 L72.90 157.60 L75.80 156.50 L78.10 155.30 L74.60 153.50 L71.70 154.10 L70.00 153.00 L70.00 148.30 L67.00 148.90 L64.70 151.20 L63.50 155.90 L65.30 158.80 L68.20 160.00 L70.00 161.10 L69.40 163.50 L67.60 164.60 L64.10 165.20 L60.60 167.00 L58.30 170.40 L55.40 173.90 L52.50 178.60 L49.60 182.10 L46.70 180.90 L43.20 178.60 L39.70 175.10 L37.30 171.60 L36.20 170.40 L36.70 165.80 L38.50 162.30 L42.00 161.10 L43.70 157.60 L41.40 155.90 L37.30 156.50 L35.30 157.50 M99.60 79.80 L101.20 82.50 L100.80 84.90 L99.00 87.00 L98.00 88.80 L95.80 91.20 L94.60 91.60 L95.10 89.00 L96.80 87.20 L98.50 85.50 L97.40 82.60 L98.30 80.80 L99.60 79.80 M123.50 11.30 L125.00 13.50 L128.00 14.00 L131.00 13.50 L133.00 11.30 M114.90 155.30 a0.90 0.90 0 1 0 1.80 0 a0.90 0.90 0 1 0 -1.80 0 M113.60 160.00 a0.50 0.50 0 1 0 1.00 0 a0.50 0.50 0 1 0 -1.00 0 M112.80 162.00 a0.50 0.50 0 1 0 1.00 0 a0.50 0.50 0 1 0 -1.00 0 M112.20 163.80 a0.50 0.50 0 1 0 1.00 0 a0.50 0.50 0 1 0 -1.00 0 M111.20 166.40 a0.50 0.50 0 1 0 1.00 0 a0.50 0.50 0 1 0 -1.00 0 M117.50 168.70 a0.70 0.70 0 1 0 1.40 0 a0.70 0.70 0 1 0 -1.40 0 M119.40 173.40 a0.50 0.50 0 1 0 1.00 0 a0.50 0.50 0 1 0 -1.00 0 M122.00 188.50 a0.80 0.80 0 1 0 1.60 0 a0.80 0.80 0 1 0 -1.60 0 M113.30 77.60 a0.40 0.40 0 1 0 0.80 0 a0.40 0.40 0 1 0 -0.80 0 M70.10 90.50 a0.30 0.30 0 1 0 0.60 0 a0.30 0.30 0 1 0 -0.60 0 M70.10 95.50 a0.30 0.30 0 1 0 0.60 0 a0.30 0.30 0 1 0 -0.60 0" fill="none" stroke="#9a9a9a" stroke-width="0.5" stroke-linejoin="round"/></g></g><rect x="35.50" y="301.50" width="146.70" height="179.90" fill="none" stroke="#262626" stroke-width="0.80"/><path d="M53.45 481.40v-2.50M53.45 301.50v2.50M108.80 481.40v-2.50M108.80 301.50v2.50M164.15 481.40v-2.50M164.15 301.50v2.50M35.50 334.30h2.50M182.20 334.30h-2.50M35.50 397.90h2.50M182.20 397.90h-2.50M35.50 460.50h2.50M182.20 460.50h-2.50" stroke="#262626" stroke-width="0.8" fill="none"/><text x="31.20" y="339.10" font-size="13.90" text-anchor="end" fill="#000000" stroke="#000000" stroke-width="0.15" >40°N</text><text x="31.20" y="402.70" font-size="13.90" text-anchor="end" fill="#000000" stroke="#000000" stroke-width="0.15" >37°N</text><text x="31.20" y="465.30" font-size="13.90" text-anchor="end" fill="#000000" stroke="#000000" stroke-width="0.15" >34°N</text><text x="53.85" y="493.60" font-size="13.90" text-anchor="middle" fill="#000000" stroke="#000000" stroke-width="0.15" >136°E</text><text x="109.00" y="493.60" font-size="13.90" text-anchor="middle" fill="#000000" stroke="#000000" stroke-width="0.15" >139°E</text><text x="163.90" y="493.60" font-size="13.90" text-anchor="middle" fill="#000000" stroke="#000000" stroke-width="0.15" >142°E</text><text x="44.90" y="328.30" font-size="13.90" text-anchor="start" fill="#000000" stroke="#000000" stroke-width="0.15" >(f) Output</text><text x="44.90" y="350.20" font-size="13.90" text-anchor="start" fill="#000000" stroke="#000000" stroke-width="0.15" >300 km</text><rect x="116.00" y="501.30" width="55.90" height="5.30" fill="url(#cb252)" stroke="#262626" stroke-width="0.6"/><path d="M144.2 506.60v-1.6" stroke="#262626" stroke-width="0.7"/><text x="116.50" y="523.00" font-size="13.90" text-anchor="middle" fill="#000000" stroke="#000000" stroke-width="0.15" ><tspan dy="1">-</tspan><tspan dy="-1">3</tspan></text><text x="144.00" y="523.00" font-size="13.90" text-anchor="middle" fill="#000000" stroke="#000000" stroke-width="0.15" >0</text><text x="171.80" y="523.00" font-size="13.90" text-anchor="middle" fill="#000000" stroke="#000000" stroke-width="0.15" >3</text><text x="144.20" y="542.10" font-size="13.90" text-anchor="middle" fill="#000000" stroke="#000000" stroke-width="0.15"><tspan>10</tspan><tspan dy="-4.6" font-size="10.01">10</tspan><tspan dy="4.6">m</tspan><tspan dy="-4.6" font-size="10.01">-3</tspan></text></svg></body></html>
